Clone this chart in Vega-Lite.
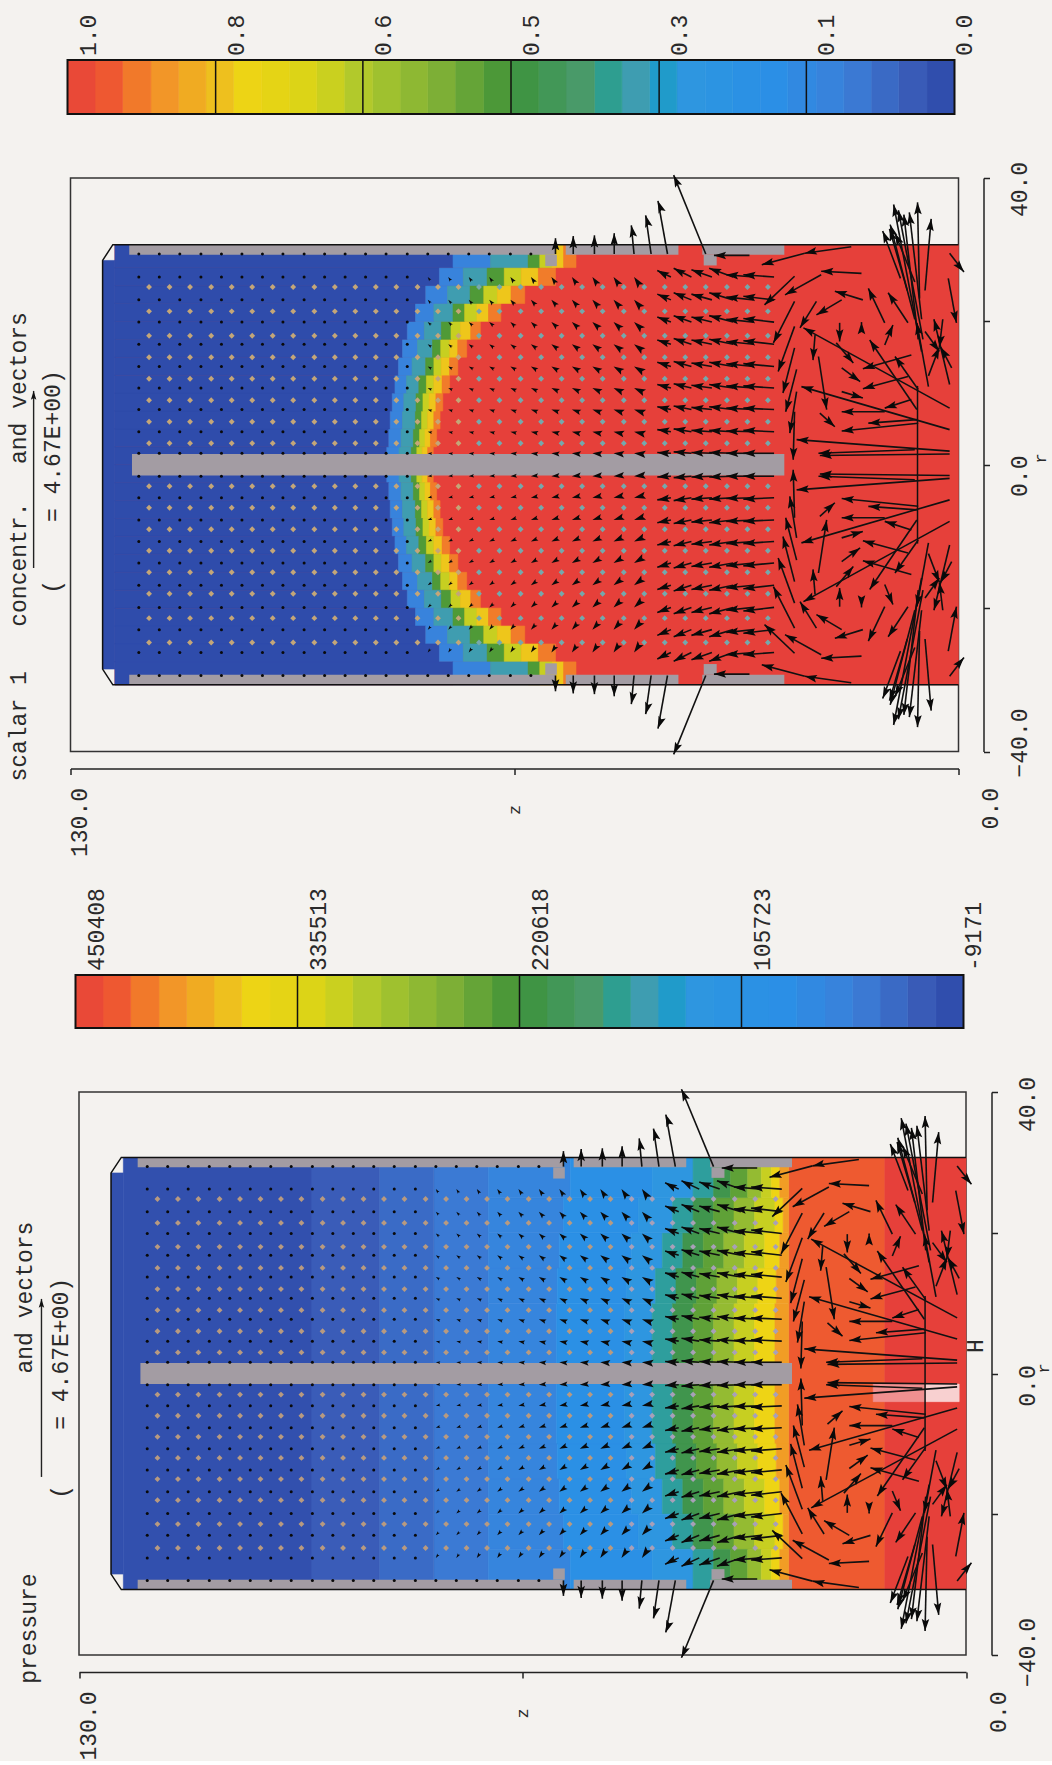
{"$schema":"https://vega.github.io/schema/vega-lite/v6.json","bounds":"flush","spacing":64,"padding":{"left":7.5,"top":14,"right":0,"bottom":0},"background":"#f4f2ef",
"config":{"view":{"stroke":null},"axis":{"grid":false,"labelFont":"Liberation Mono","labelFontSize":23,"labelColor":"#2a2a2a","titleFont":"Liberation Mono","titleFontSize":17,"titleFontWeight":"normal","titleColor":"#2a2a2a","domainColor":"#222","tickColor":"#222","domainWidth":1.5,"tickWidth":1.5,"labelFlush":false,"labelOverlap":false}},
"datasets":{
"frame":[{"z0":0,"z1":130,"r0":-40,"r1":40}],
"ramp":[{"a":0,"b":0.031,"t":0.016},{"a":0.031,"b":0.063,"t":0.047},{"a":0.063,"b":0.094,"t":0.078},{"a":0.094,"b":0.125,"t":0.109},{"a":0.125,"b":0.156,"t":0.141},{"a":0.156,"b":0.188,"t":0.172},{"a":0.188,"b":0.219,"t":0.203},{"a":0.219,"b":0.25,"t":0.234},{"a":0.25,"b":0.281,"t":0.266},{"a":0.281,"b":0.313,"t":0.297},{"a":0.313,"b":0.344,"t":0.328},{"a":0.344,"b":0.375,"t":0.359},{"a":0.375,"b":0.406,"t":0.391},{"a":0.406,"b":0.438,"t":0.422},{"a":0.438,"b":0.469,"t":0.453},{"a":0.469,"b":0.5,"t":0.484},{"a":0.5,"b":0.531,"t":0.516},{"a":0.531,"b":0.563,"t":0.547},{"a":0.563,"b":0.594,"t":0.578},{"a":0.594,"b":0.625,"t":0.609},{"a":0.625,"b":0.656,"t":0.641},{"a":0.656,"b":0.688,"t":0.672},{"a":0.688,"b":0.719,"t":0.703},{"a":0.719,"b":0.75,"t":0.734},{"a":0.75,"b":0.781,"t":0.766},{"a":0.781,"b":0.813,"t":0.797},{"a":0.813,"b":0.844,"t":0.828},{"a":0.844,"b":0.875,"t":0.859},{"a":0.875,"b":0.906,"t":0.891},{"a":0.906,"b":0.938,"t":0.922},{"a":0.938,"b":0.969,"t":0.953},{"a":0.969,"b":1,"t":0.984}],
"whole":[{"a":0,"b":1}],
"labels1":[{"v":1,"l":"1.0"},{"v":0.833,"l":"0.8"},{"v":0.667,"l":"0.6"},{"v":0.5,"l":"0.5"},{"v":0.333,"l":"0.3"},{"v":0.167,"l":"0.1"},{"v":0,"l":"0.0"}],
"labels2":[{"v":1,"l":"450408"},{"v":0.75,"l":"335513"},{"v":0.5,"l":"220618"},{"v":0.25,"l":"105723"},{"v":0,"l":"-9171"}],
"geom":[{"z0":121,"z1":25.5,"r0":-1.5,"r1":1.5},{"z0":121.4,"z1":59,"r0":29.3,"r1":30.7},{"z0":57.5,"z1":41,"r0":29.3,"r1":30.7},{"z0":37.5,"z1":25.5,"r0":29.3,"r1":30.7},{"z0":121.4,"z1":59,"r0":-30.7,"r1":-29.3},{"z0":57.5,"z1":41,"r0":-30.7,"r1":-29.3},{"z0":37.5,"z1":25.5,"r0":-30.7,"r1":-29.3},{"z0":60.5,"z1":58.8,"r0":27.7,"r1":29.3},{"z0":37.3,"z1":35.4,"r0":27.8,"r1":29.3},{"z0":60.5,"z1":58.8,"r0":-29.3,"r1":-27.7},{"z0":37.3,"z1":35.4,"r0":-29.3,"r1":-27.8}],
"lines":[{"g":1,"o":1,"z":0,"r":30.7},{"g":1,"o":2,"z":123.8,"r":30.7},{"g":1,"o":3,"z":125.3,"r":28.5},{"g":1,"o":4,"z":125.3,"r":-28.5},{"g":1,"o":5,"z":123.8,"r":-30.7},{"g":1,"o":6,"z":0,"r":-30.7},{"g":2,"o":1,"z":6,"r":11},{"g":2,"o":2,"z":6,"r":-11}],
"conc":[{"z0":0,"z1":123.5,"r0":-30.7,"r1":30.7,"t":1},{"z0":123.5,"z1":125.3,"r0":-28.5,"r1":28.5,"t":0.01},
{"z0":123.5,"z1":83.7,"r0":0,"r1":2.5,"t":0.01},{"z0":83.7,"z1":81.9,"r0":0,"r1":2.5,"t":0.14},{"z0":81.9,"z1":80.1,"r0":0,"r1":2.5,"t":0.36},{"z0":80.1,"z1":79.3,"r0":0,"r1":2.5,"t":0.52},{"z0":79.3,"z1":78.5,"r0":0,"r1":2.5,"t":0.7},{"z0":78.5,"z1":77.7,"r0":0,"r1":2.5,"t":0.82},{"z0":77.7,"z1":76.9,"r0":0,"r1":2.5,"t":0.92},
{"z0":123.5,"z1":83.4,"r0":2.5,"r1":5,"t":0.01},{"z0":83.4,"z1":81.6,"r0":2.5,"r1":5,"t":0.14},{"z0":81.6,"z1":79.8,"r0":2.5,"r1":5,"t":0.36},{"z0":79.8,"z1":78.9,"r0":2.5,"r1":5,"t":0.52},{"z0":78.9,"z1":78.1,"r0":2.5,"r1":5,"t":0.7},{"z0":78.1,"z1":77.3,"r0":2.5,"r1":5,"t":0.82},{"z0":77.3,"z1":76.4,"r0":2.5,"r1":5,"t":0.92},
{"z0":123.5,"z1":83.2,"r0":5,"r1":7.5,"t":0.01},{"z0":83.2,"z1":81.4,"r0":5,"r1":7.5,"t":0.14},{"z0":81.4,"z1":79.5,"r0":5,"r1":7.5,"t":0.36},{"z0":79.5,"z1":78.6,"r0":5,"r1":7.5,"t":0.52},{"z0":78.6,"z1":77.7,"r0":5,"r1":7.5,"t":0.7},{"z0":77.7,"z1":76.8,"r0":5,"r1":7.5,"t":0.82},{"z0":76.8,"z1":75.9,"r0":5,"r1":7.5,"t":0.92},
{"z0":123.5,"z1":82.9,"r0":7.5,"r1":10,"t":0.01},{"z0":82.9,"z1":81.2,"r0":7.5,"r1":10,"t":0.14},{"z0":81.2,"z1":79.4,"r0":7.5,"r1":10,"t":0.36},{"z0":79.4,"z1":78.4,"r0":7.5,"r1":10,"t":0.52},{"z0":78.4,"z1":77.5,"r0":7.5,"r1":10,"t":0.7},{"z0":77.5,"z1":76.5,"r0":7.5,"r1":10,"t":0.82},{"z0":76.5,"z1":75.5,"r0":7.5,"r1":10,"t":0.92},
{"z0":123.5,"z1":82.5,"r0":10,"r1":12.5,"t":0.01},{"z0":82.5,"z1":80.8,"r0":10,"r1":12.5,"t":0.14},{"z0":80.8,"z1":79,"r0":10,"r1":12.5,"t":0.36},{"z0":79,"z1":77.9,"r0":10,"r1":12.5,"t":0.52},{"z0":77.9,"z1":76.8,"r0":10,"r1":12.5,"t":0.7},{"z0":76.8,"z1":75.6,"r0":10,"r1":12.5,"t":0.82},{"z0":75.6,"z1":74.5,"r0":10,"r1":12.5,"t":0.92},
{"z0":123.5,"z1":82,"r0":12.5,"r1":15,"t":0.01},{"z0":82,"z1":80,"r0":12.5,"r1":15,"t":0.14},{"z0":80,"z1":78,"r0":12.5,"r1":15,"t":0.36},{"z0":78,"z1":76.8,"r0":12.5,"r1":15,"t":0.52},{"z0":76.8,"z1":75.7,"r0":12.5,"r1":15,"t":0.7},{"z0":75.7,"z1":74.5,"r0":12.5,"r1":15,"t":0.82},{"z0":74.5,"z1":73.3,"r0":12.5,"r1":15,"t":0.92},
{"z0":123.5,"z1":81.4,"r0":15,"r1":17.5,"t":0.01},{"z0":81.4,"z1":79.2,"r0":15,"r1":17.5,"t":0.14},{"z0":79.2,"z1":77,"r0":15,"r1":17.5,"t":0.36},{"z0":77,"z1":75.8,"r0":15,"r1":17.5,"t":0.52},{"z0":75.8,"z1":74.5,"r0":15,"r1":17.5,"t":0.7},{"z0":74.5,"z1":73.3,"r0":15,"r1":17.5,"t":0.82},{"z0":73.3,"z1":72,"r0":15,"r1":17.5,"t":0.92},
{"z0":123.5,"z1":80.7,"r0":17.5,"r1":20,"t":0.01},{"z0":80.7,"z1":78.2,"r0":17.5,"r1":20,"t":0.14},{"z0":78.2,"z1":75.7,"r0":17.5,"r1":20,"t":0.36},{"z0":75.7,"z1":74.3,"r0":17.5,"r1":20,"t":0.52},{"z0":74.3,"z1":72.9,"r0":17.5,"r1":20,"t":0.7},{"z0":72.9,"z1":71.4,"r0":17.5,"r1":20,"t":0.82},{"z0":71.4,"z1":70,"r0":17.5,"r1":20,"t":0.92},
{"z0":123.5,"z1":79.5,"r0":20,"r1":22.5,"t":0.01},{"z0":79.5,"z1":76.8,"r0":20,"r1":22.5,"t":0.14},{"z0":76.8,"z1":74,"r0":20,"r1":22.5,"t":0.36},{"z0":74,"z1":72.3,"r0":20,"r1":22.5,"t":0.52},{"z0":72.3,"z1":70.5,"r0":20,"r1":22.5,"t":0.7},{"z0":70.5,"z1":68.8,"r0":20,"r1":22.5,"t":0.82},{"z0":68.8,"z1":67,"r0":20,"r1":22.5,"t":0.92},
{"z0":123.5,"z1":78,"r0":22.5,"r1":25,"t":0.01},{"z0":78,"z1":74.8,"r0":22.5,"r1":25,"t":0.14},{"z0":74.8,"z1":71.5,"r0":22.5,"r1":25,"t":0.36},{"z0":71.5,"z1":69.5,"r0":22.5,"r1":25,"t":0.52},{"z0":69.5,"z1":67.5,"r0":22.5,"r1":25,"t":0.7},{"z0":67.5,"z1":65.5,"r0":22.5,"r1":25,"t":0.82},{"z0":65.5,"z1":63.5,"r0":22.5,"r1":25,"t":0.92},
{"z0":123.5,"z1":76,"r0":25,"r1":27.5,"t":0.01},{"z0":76,"z1":72.5,"r0":25,"r1":27.5,"t":0.14},{"z0":72.5,"z1":69,"r0":25,"r1":27.5,"t":0.36},{"z0":69,"z1":66.5,"r0":25,"r1":27.5,"t":0.52},{"z0":66.5,"z1":64,"r0":25,"r1":27.5,"t":0.7},{"z0":64,"z1":61.5,"r0":25,"r1":27.5,"t":0.82},{"z0":61.5,"z1":59,"r0":25,"r1":27.5,"t":0.92},
{"z0":123.5,"z1":74,"r0":27.5,"r1":30.7,"t":0.01},{"z0":74,"z1":68.5,"r0":27.5,"r1":30.7,"t":0.14},{"z0":68.5,"z1":63,"r0":27.5,"r1":30.7,"t":0.36},{"z0":63,"z1":61.3,"r0":27.5,"r1":30.7,"t":0.52},{"z0":61.3,"z1":59.5,"r0":27.5,"r1":30.7,"t":0.7},{"z0":59.5,"z1":57.8,"r0":27.5,"r1":30.7,"t":0.82},{"z0":57.8,"z1":56,"r0":27.5,"r1":30.7,"t":0.92},
{"z0":123.5,"z1":83.7,"r0":-2.5,"r1":0,"t":0.01},{"z0":83.7,"z1":81.9,"r0":-2.5,"r1":0,"t":0.14},{"z0":81.9,"z1":80.1,"r0":-2.5,"r1":0,"t":0.36},{"z0":80.1,"z1":79.3,"r0":-2.5,"r1":0,"t":0.52},{"z0":79.3,"z1":78.5,"r0":-2.5,"r1":0,"t":0.7},{"z0":78.5,"z1":77.7,"r0":-2.5,"r1":0,"t":0.82},{"z0":77.7,"z1":76.9,"r0":-2.5,"r1":0,"t":0.92},
{"z0":123.5,"z1":83.4,"r0":-5,"r1":-2.5,"t":0.01},{"z0":83.4,"z1":81.6,"r0":-5,"r1":-2.5,"t":0.14},{"z0":81.6,"z1":79.8,"r0":-5,"r1":-2.5,"t":0.36},{"z0":79.8,"z1":78.9,"r0":-5,"r1":-2.5,"t":0.52},{"z0":78.9,"z1":78.1,"r0":-5,"r1":-2.5,"t":0.7},{"z0":78.1,"z1":77.3,"r0":-5,"r1":-2.5,"t":0.82},{"z0":77.3,"z1":76.4,"r0":-5,"r1":-2.5,"t":0.92},
{"z0":123.5,"z1":83.2,"r0":-7.5,"r1":-5,"t":0.01},{"z0":83.2,"z1":81.4,"r0":-7.5,"r1":-5,"t":0.14},{"z0":81.4,"z1":79.5,"r0":-7.5,"r1":-5,"t":0.36},{"z0":79.5,"z1":78.6,"r0":-7.5,"r1":-5,"t":0.52},{"z0":78.6,"z1":77.7,"r0":-7.5,"r1":-5,"t":0.7},{"z0":77.7,"z1":76.8,"r0":-7.5,"r1":-5,"t":0.82},{"z0":76.8,"z1":75.9,"r0":-7.5,"r1":-5,"t":0.92},
{"z0":123.5,"z1":82.9,"r0":-10,"r1":-7.5,"t":0.01},{"z0":82.9,"z1":81.2,"r0":-10,"r1":-7.5,"t":0.14},{"z0":81.2,"z1":79.4,"r0":-10,"r1":-7.5,"t":0.36},{"z0":79.4,"z1":78.4,"r0":-10,"r1":-7.5,"t":0.52},{"z0":78.4,"z1":77.5,"r0":-10,"r1":-7.5,"t":0.7},{"z0":77.5,"z1":76.5,"r0":-10,"r1":-7.5,"t":0.82},{"z0":76.5,"z1":75.5,"r0":-10,"r1":-7.5,"t":0.92},
{"z0":123.5,"z1":82.5,"r0":-12.5,"r1":-10,"t":0.01},{"z0":82.5,"z1":80.8,"r0":-12.5,"r1":-10,"t":0.14},{"z0":80.8,"z1":79,"r0":-12.5,"r1":-10,"t":0.36},{"z0":79,"z1":77.9,"r0":-12.5,"r1":-10,"t":0.52},{"z0":77.9,"z1":76.8,"r0":-12.5,"r1":-10,"t":0.7},{"z0":76.8,"z1":75.6,"r0":-12.5,"r1":-10,"t":0.82},{"z0":75.6,"z1":74.5,"r0":-12.5,"r1":-10,"t":0.92},
{"z0":123.5,"z1":82,"r0":-15,"r1":-12.5,"t":0.01},{"z0":82,"z1":80,"r0":-15,"r1":-12.5,"t":0.14},{"z0":80,"z1":78,"r0":-15,"r1":-12.5,"t":0.36},{"z0":78,"z1":76.8,"r0":-15,"r1":-12.5,"t":0.52},{"z0":76.8,"z1":75.7,"r0":-15,"r1":-12.5,"t":0.7},{"z0":75.7,"z1":74.5,"r0":-15,"r1":-12.5,"t":0.82},{"z0":74.5,"z1":73.3,"r0":-15,"r1":-12.5,"t":0.92},
{"z0":123.5,"z1":81.4,"r0":-17.5,"r1":-15,"t":0.01},{"z0":81.4,"z1":79.2,"r0":-17.5,"r1":-15,"t":0.14},{"z0":79.2,"z1":77,"r0":-17.5,"r1":-15,"t":0.36},{"z0":77,"z1":75.8,"r0":-17.5,"r1":-15,"t":0.52},{"z0":75.8,"z1":74.5,"r0":-17.5,"r1":-15,"t":0.7},{"z0":74.5,"z1":73.3,"r0":-17.5,"r1":-15,"t":0.82},{"z0":73.3,"z1":72,"r0":-17.5,"r1":-15,"t":0.92},
{"z0":123.5,"z1":80.7,"r0":-20,"r1":-17.5,"t":0.01},{"z0":80.7,"z1":78.2,"r0":-20,"r1":-17.5,"t":0.14},{"z0":78.2,"z1":75.7,"r0":-20,"r1":-17.5,"t":0.36},{"z0":75.7,"z1":74.3,"r0":-20,"r1":-17.5,"t":0.52},{"z0":74.3,"z1":72.9,"r0":-20,"r1":-17.5,"t":0.7},{"z0":72.9,"z1":71.4,"r0":-20,"r1":-17.5,"t":0.82},{"z0":71.4,"z1":70,"r0":-20,"r1":-17.5,"t":0.92},
{"z0":123.5,"z1":79.5,"r0":-22.5,"r1":-20,"t":0.01},{"z0":79.5,"z1":76.8,"r0":-22.5,"r1":-20,"t":0.14},{"z0":76.8,"z1":74,"r0":-22.5,"r1":-20,"t":0.36},{"z0":74,"z1":72.3,"r0":-22.5,"r1":-20,"t":0.52},{"z0":72.3,"z1":70.5,"r0":-22.5,"r1":-20,"t":0.7},{"z0":70.5,"z1":68.8,"r0":-22.5,"r1":-20,"t":0.82},{"z0":68.8,"z1":67,"r0":-22.5,"r1":-20,"t":0.92},
{"z0":123.5,"z1":78,"r0":-25,"r1":-22.5,"t":0.01},{"z0":78,"z1":74.8,"r0":-25,"r1":-22.5,"t":0.14},{"z0":74.8,"z1":71.5,"r0":-25,"r1":-22.5,"t":0.36},{"z0":71.5,"z1":69.5,"r0":-25,"r1":-22.5,"t":0.52},{"z0":69.5,"z1":67.5,"r0":-25,"r1":-22.5,"t":0.7},{"z0":67.5,"z1":65.5,"r0":-25,"r1":-22.5,"t":0.82},{"z0":65.5,"z1":63.5,"r0":-25,"r1":-22.5,"t":0.92},
{"z0":123.5,"z1":76,"r0":-27.5,"r1":-25,"t":0.01},{"z0":76,"z1":72.5,"r0":-27.5,"r1":-25,"t":0.14},{"z0":72.5,"z1":69,"r0":-27.5,"r1":-25,"t":0.36},{"z0":69,"z1":66.5,"r0":-27.5,"r1":-25,"t":0.52},{"z0":66.5,"z1":64,"r0":-27.5,"r1":-25,"t":0.7},{"z0":64,"z1":61.5,"r0":-27.5,"r1":-25,"t":0.82},{"z0":61.5,"z1":59,"r0":-27.5,"r1":-25,"t":0.92},
{"z0":123.5,"z1":74,"r0":-30.7,"r1":-27.5,"t":0.01},{"z0":74,"z1":68.5,"r0":-30.7,"r1":-27.5,"t":0.14},{"z0":68.5,"z1":63,"r0":-30.7,"r1":-27.5,"t":0.36},{"z0":63,"z1":61.3,"r0":-30.7,"r1":-27.5,"t":0.52},{"z0":61.3,"z1":59.5,"r0":-30.7,"r1":-27.5,"t":0.7},{"z0":59.5,"z1":57.8,"r0":-30.7,"r1":-27.5,"t":0.82},{"z0":57.8,"z1":56,"r0":-30.7,"r1":-27.5,"t":0.92}],
"press":[{"z0":0,"z1":12,"r0":-30.7,"r1":30.7,"t":1},{"z0":12,"z1":26,"r0":-30.7,"r1":30.7,"t":0.95},{"z0":70,"z1":78,"r0":-30.7,"r1":30.7,"t":0.11},{"z0":78,"z1":86,"r0":-30.7,"r1":30.7,"t":0.08},{"z0":86,"z1":96,"r0":-30.7,"r1":30.7,"t":0.05},{"z0":96,"z1":123.5,"r0":-30.7,"r1":30.7,"t":0.02},{"z0":123.5,"z1":125.3,"r0":-28.5,"r1":28.5,"t":0.02},
{"z0":70,"z1":60,"r0":-10,"r1":10,"t":0.15},{"z0":60,"z1":50,"r0":-10,"r1":10,"t":0.22},{"z0":50,"z1":46,"r0":-10,"r1":10,"t":0.3},{"z0":46,"z1":43,"r0":-10,"r1":10,"t":0.38},{"z0":43,"z1":40,"r0":-10,"r1":10,"t":0.47},{"z0":40,"z1":37,"r0":-10,"r1":10,"t":0.54},{"z0":37,"z1":34,"r0":-10,"r1":10,"t":0.62},{"z0":34,"z1":31,"r0":-10,"r1":10,"t":0.7},{"z0":31,"z1":28,"r0":-10,"r1":10,"t":0.8},{"z0":28,"z1":26,"r0":-10,"r1":10,"t":0.88},
{"z0":70,"z1":59.9,"r0":10,"r1":15,"t":0.15},{"z0":59.9,"z1":49.7,"r0":10,"r1":15,"t":0.22},{"z0":49.7,"z1":45.5,"r0":10,"r1":15,"t":0.3},{"z0":45.5,"z1":42.5,"r0":10,"r1":15,"t":0.38},{"z0":42.5,"z1":39.5,"r0":10,"r1":15,"t":0.47},{"z0":39.5,"z1":36.5,"r0":10,"r1":15,"t":0.54},{"z0":36.5,"z1":33.5,"r0":10,"r1":15,"t":0.62},{"z0":33.5,"z1":30.5,"r0":10,"r1":15,"t":0.7},{"z0":30.5,"z1":27.8,"r0":10,"r1":15,"t":0.8},{"z0":27.8,"z1":26,"r0":10,"r1":15,"t":0.88},
{"z0":70,"z1":59.6,"r0":15,"r1":20,"t":0.15},{"z0":59.6,"z1":49,"r0":15,"r1":20,"t":0.22},{"z0":49,"z1":44.5,"r0":15,"r1":20,"t":0.3},{"z0":44.5,"z1":41.5,"r0":15,"r1":20,"t":0.38},{"z0":41.5,"z1":38.5,"r0":15,"r1":20,"t":0.47},{"z0":38.5,"z1":35.5,"r0":15,"r1":20,"t":0.54},{"z0":35.5,"z1":32.5,"r0":15,"r1":20,"t":0.62},{"z0":32.5,"z1":29.5,"r0":15,"r1":20,"t":0.7},{"z0":29.5,"z1":27.3,"r0":15,"r1":20,"t":0.8},{"z0":27.3,"z1":26,"r0":15,"r1":20,"t":0.88},
{"z0":70,"z1":59,"r0":20,"r1":25,"t":0.15},{"z0":59,"z1":48,"r0":20,"r1":25,"t":0.22},{"z0":48,"z1":43,"r0":20,"r1":25,"t":0.3},{"z0":43,"z1":40,"r0":20,"r1":25,"t":0.38},{"z0":40,"z1":37,"r0":20,"r1":25,"t":0.47},{"z0":37,"z1":34,"r0":20,"r1":25,"t":0.54},{"z0":34,"z1":31,"r0":20,"r1":25,"t":0.62},{"z0":31,"z1":28,"r0":20,"r1":25,"t":0.7},{"z0":28,"z1":26.8,"r0":20,"r1":25,"t":0.8},{"z0":26.8,"z1":26,"r0":20,"r1":25,"t":0.88},
{"z0":70,"z1":58,"r0":25,"r1":30.7,"t":0.15},{"z0":58,"z1":46,"r0":25,"r1":30.7,"t":0.22},{"z0":46,"z1":40,"r0":25,"r1":30.7,"t":0.3},{"z0":40,"z1":37,"r0":25,"r1":30.7,"t":0.38},{"z0":37,"z1":34.5,"r0":25,"r1":30.7,"t":0.47},{"z0":34.5,"z1":32,"r0":25,"r1":30.7,"t":0.54},{"z0":32,"z1":30,"r0":25,"r1":30.7,"t":0.62},{"z0":30,"z1":28.5,"r0":25,"r1":30.7,"t":0.7},{"z0":28.5,"z1":27.3,"r0":25,"r1":30.7,"t":0.8},{"z0":27.3,"z1":26,"r0":25,"r1":30.7,"t":0.88},
{"z0":70,"z1":59.9,"r0":-15,"r1":-10,"t":0.15},{"z0":59.9,"z1":49.7,"r0":-15,"r1":-10,"t":0.22},{"z0":49.7,"z1":45.5,"r0":-15,"r1":-10,"t":0.3},{"z0":45.5,"z1":42.5,"r0":-15,"r1":-10,"t":0.38},{"z0":42.5,"z1":39.5,"r0":-15,"r1":-10,"t":0.47},{"z0":39.5,"z1":36.5,"r0":-15,"r1":-10,"t":0.54},{"z0":36.5,"z1":33.5,"r0":-15,"r1":-10,"t":0.62},{"z0":33.5,"z1":30.5,"r0":-15,"r1":-10,"t":0.7},{"z0":30.5,"z1":27.8,"r0":-15,"r1":-10,"t":0.8},{"z0":27.8,"z1":26,"r0":-15,"r1":-10,"t":0.88},
{"z0":70,"z1":59.6,"r0":-20,"r1":-15,"t":0.15},{"z0":59.6,"z1":49,"r0":-20,"r1":-15,"t":0.22},{"z0":49,"z1":44.5,"r0":-20,"r1":-15,"t":0.3},{"z0":44.5,"z1":41.5,"r0":-20,"r1":-15,"t":0.38},{"z0":41.5,"z1":38.5,"r0":-20,"r1":-15,"t":0.47},{"z0":38.5,"z1":35.5,"r0":-20,"r1":-15,"t":0.54},{"z0":35.5,"z1":32.5,"r0":-20,"r1":-15,"t":0.62},{"z0":32.5,"z1":29.5,"r0":-20,"r1":-15,"t":0.7},{"z0":29.5,"z1":27.3,"r0":-20,"r1":-15,"t":0.8},{"z0":27.3,"z1":26,"r0":-20,"r1":-15,"t":0.88},
{"z0":70,"z1":59,"r0":-25,"r1":-20,"t":0.15},{"z0":59,"z1":48,"r0":-25,"r1":-20,"t":0.22},{"z0":48,"z1":43,"r0":-25,"r1":-20,"t":0.3},{"z0":43,"z1":40,"r0":-25,"r1":-20,"t":0.38},{"z0":40,"z1":37,"r0":-25,"r1":-20,"t":0.47},{"z0":37,"z1":34,"r0":-25,"r1":-20,"t":0.54},{"z0":34,"z1":31,"r0":-25,"r1":-20,"t":0.62},{"z0":31,"z1":28,"r0":-25,"r1":-20,"t":0.7},{"z0":28,"z1":26.8,"r0":-25,"r1":-20,"t":0.8},{"z0":26.8,"z1":26,"r0":-25,"r1":-20,"t":0.88},
{"z0":70,"z1":58,"r0":-30.7,"r1":-25,"t":0.15},{"z0":58,"z1":46,"r0":-30.7,"r1":-25,"t":0.22},{"z0":46,"z1":40,"r0":-30.7,"r1":-25,"t":0.3},{"z0":40,"z1":37,"r0":-30.7,"r1":-25,"t":0.38},{"z0":37,"z1":34.5,"r0":-30.7,"r1":-25,"t":0.47},{"z0":34.5,"z1":32,"r0":-30.7,"r1":-25,"t":0.54},{"z0":32,"z1":30,"r0":-30.7,"r1":-25,"t":0.62},{"z0":30,"z1":28.5,"r0":-30.7,"r1":-25,"t":0.7},{"z0":28.5,"z1":27.3,"r0":-30.7,"r1":-25,"t":0.8},{"z0":27.3,"z1":26,"r0":-30.7,"r1":-25,"t":0.88},
{"z0":13.6,"z1":6,"r0":-4,"r1":-1.5,"t":1.04},{"z0":6,"z1":1,"r0":-4,"r1":-1.5,"t":1.08}],
"tan":[{"z":118.5,"r":3},{"z":115.5,"r":3},{"z":112.5,"r":3},{"z":109.4,"r":3},{"z":106.4,"r":3},{"z":103.4,"r":3},{"z":100.4,"r":3},{"z":97.4,"r":3},{"z":94.3,"r":3},{"z":91.3,"r":3},{"z":88.3,"r":3},{"z":85.3,"r":3},{"z":82.3,"r":3},{"z":79.2,"r":3},{"z":76.2,"r":3},{"z":73.2,"r":3},{"z":70.2,"r":3},{"z":67.2,"r":3},{"z":64.1,"r":3},{"z":61.1,"r":3},{"z":58.1,"r":3},{"z":55.1,"r":3},{"z":52.1,"r":3},{"z":49,"r":3},{"z":46,"r":3},{"z":43,"r":3},{"z":40,"r":3},{"z":37,"r":3},{"z":33.9,"r":3},{"z":30.9,"r":3},{"z":27.9,"r":3},
{"z":118.5,"r":6},{"z":115.5,"r":6},{"z":112.5,"r":6},{"z":109.4,"r":6},{"z":106.4,"r":6},{"z":103.4,"r":6},{"z":100.4,"r":6},{"z":97.4,"r":6},{"z":94.3,"r":6},{"z":91.3,"r":6},{"z":88.3,"r":6},{"z":85.3,"r":6},{"z":82.3,"r":6},{"z":79.2,"r":6},{"z":76.2,"r":6},{"z":73.2,"r":6},{"z":70.2,"r":6},{"z":67.2,"r":6},{"z":64.1,"r":6},{"z":61.1,"r":6},{"z":58.1,"r":6},{"z":55.1,"r":6},{"z":52.1,"r":6},{"z":49,"r":6},{"z":46,"r":6},{"z":43,"r":6},{"z":40,"r":6},{"z":37,"r":6},{"z":33.9,"r":6},{"z":30.9,"r":6},{"z":27.9,"r":6},
{"z":118.5,"r":9},{"z":115.5,"r":9},{"z":112.5,"r":9},{"z":109.4,"r":9},{"z":106.4,"r":9},{"z":103.4,"r":9},{"z":100.4,"r":9},{"z":97.4,"r":9},{"z":94.3,"r":9},{"z":91.3,"r":9},{"z":88.3,"r":9},{"z":85.3,"r":9},{"z":82.3,"r":9},{"z":79.2,"r":9},{"z":76.2,"r":9},{"z":73.2,"r":9},{"z":70.2,"r":9},{"z":67.2,"r":9},{"z":64.1,"r":9},{"z":61.1,"r":9},{"z":58.1,"r":9},{"z":55.1,"r":9},{"z":52.1,"r":9},{"z":49,"r":9},{"z":46,"r":9},{"z":43,"r":9},{"z":40,"r":9},{"z":37,"r":9},{"z":33.9,"r":9},{"z":30.9,"r":9},{"z":27.9,"r":9},
{"z":118.5,"r":12},{"z":115.5,"r":12},{"z":112.5,"r":12},{"z":109.4,"r":12},{"z":106.4,"r":12},{"z":103.4,"r":12},{"z":100.4,"r":12},{"z":97.4,"r":12},{"z":94.3,"r":12},{"z":91.3,"r":12},{"z":88.3,"r":12},{"z":85.3,"r":12},{"z":82.3,"r":12},{"z":79.2,"r":12},{"z":76.2,"r":12},{"z":73.2,"r":12},{"z":70.2,"r":12},{"z":67.2,"r":12},{"z":64.1,"r":12},{"z":61.1,"r":12},{"z":58.1,"r":12},{"z":55.1,"r":12},{"z":52.1,"r":12},{"z":49,"r":12},{"z":46,"r":12},{"z":43,"r":12},{"z":40,"r":12},{"z":37,"r":12},{"z":33.9,"r":12},{"z":30.9,"r":12},{"z":27.9,"r":12},
{"z":118.5,"r":15},{"z":115.5,"r":15},{"z":112.5,"r":15},{"z":109.4,"r":15},{"z":106.4,"r":15},{"z":103.4,"r":15},{"z":100.4,"r":15},{"z":97.4,"r":15},{"z":94.3,"r":15},{"z":91.3,"r":15},{"z":88.3,"r":15},{"z":85.3,"r":15},{"z":82.3,"r":15},{"z":79.2,"r":15},{"z":76.2,"r":15},{"z":73.2,"r":15},{"z":70.2,"r":15},{"z":67.2,"r":15},{"z":64.1,"r":15},{"z":61.1,"r":15},{"z":58.1,"r":15},{"z":55.1,"r":15},{"z":52.1,"r":15},{"z":49,"r":15},{"z":46,"r":15},{"z":43,"r":15},{"z":40,"r":15},{"z":37,"r":15},{"z":33.9,"r":15},{"z":30.9,"r":15},{"z":27.9,"r":15},
{"z":118.5,"r":18},{"z":115.5,"r":18},{"z":112.5,"r":18},{"z":109.4,"r":18},{"z":106.4,"r":18},{"z":103.4,"r":18},{"z":100.4,"r":18},{"z":97.4,"r":18},{"z":94.3,"r":18},{"z":91.3,"r":18},{"z":88.3,"r":18},{"z":85.3,"r":18},{"z":82.3,"r":18},{"z":79.2,"r":18},{"z":76.2,"r":18},{"z":73.2,"r":18},{"z":70.2,"r":18},{"z":67.2,"r":18},{"z":64.1,"r":18},{"z":61.1,"r":18},{"z":58.1,"r":18},{"z":55.1,"r":18},{"z":52.1,"r":18},{"z":49,"r":18},{"z":46,"r":18},{"z":43,"r":18},{"z":40,"r":18},{"z":37,"r":18},{"z":33.9,"r":18},{"z":30.9,"r":18},{"z":27.9,"r":18},
{"z":118.5,"r":21.4},{"z":115.5,"r":21.4},{"z":112.5,"r":21.4},{"z":109.4,"r":21.4},{"z":106.4,"r":21.4},{"z":103.4,"r":21.4},{"z":100.4,"r":21.4},{"z":97.4,"r":21.4},{"z":94.3,"r":21.4},{"z":91.3,"r":21.4},{"z":88.3,"r":21.4},{"z":85.3,"r":21.4},{"z":82.3,"r":21.4},{"z":79.2,"r":21.4},{"z":76.2,"r":21.4},{"z":73.2,"r":21.4},{"z":70.2,"r":21.4},{"z":67.2,"r":21.4},{"z":64.1,"r":21.4},{"z":61.1,"r":21.4},{"z":58.1,"r":21.4},{"z":55.1,"r":21.4},{"z":52.1,"r":21.4},{"z":49,"r":21.4},{"z":46,"r":21.4},{"z":43,"r":21.4},{"z":40,"r":21.4},{"z":37,"r":21.4},{"z":33.9,"r":21.4},{"z":30.9,"r":21.4},{"z":27.9,"r":21.4},
{"z":118.5,"r":24.8},{"z":115.5,"r":24.8},{"z":112.5,"r":24.8},{"z":109.4,"r":24.8},{"z":106.4,"r":24.8},{"z":103.4,"r":24.8},{"z":100.4,"r":24.8},{"z":97.4,"r":24.8},{"z":94.3,"r":24.8},{"z":91.3,"r":24.8},{"z":88.3,"r":24.8},{"z":85.3,"r":24.8},{"z":82.3,"r":24.8},{"z":79.2,"r":24.8},{"z":76.2,"r":24.8},{"z":73.2,"r":24.8},{"z":70.2,"r":24.8},{"z":67.2,"r":24.8},{"z":64.1,"r":24.8},{"z":61.1,"r":24.8},{"z":58.1,"r":24.8},{"z":55.1,"r":24.8},{"z":52.1,"r":24.8},{"z":49,"r":24.8},{"z":46,"r":24.8},{"z":43,"r":24.8},{"z":40,"r":24.8},{"z":37,"r":24.8},{"z":33.9,"r":24.8},{"z":30.9,"r":24.8},{"z":27.9,"r":24.8},
{"z":118.5,"r":-3},{"z":115.5,"r":-3},{"z":112.5,"r":-3},{"z":109.4,"r":-3},{"z":106.4,"r":-3},{"z":103.4,"r":-3},{"z":100.4,"r":-3},{"z":97.4,"r":-3},{"z":94.3,"r":-3},{"z":91.3,"r":-3},{"z":88.3,"r":-3},{"z":85.3,"r":-3},{"z":82.3,"r":-3},{"z":79.2,"r":-3},{"z":76.2,"r":-3},{"z":73.2,"r":-3},{"z":70.2,"r":-3},{"z":67.2,"r":-3},{"z":64.1,"r":-3},{"z":61.1,"r":-3},{"z":58.1,"r":-3},{"z":55.1,"r":-3},{"z":52.1,"r":-3},{"z":49,"r":-3},{"z":46,"r":-3},{"z":43,"r":-3},{"z":40,"r":-3},{"z":37,"r":-3},{"z":33.9,"r":-3},{"z":30.9,"r":-3},{"z":27.9,"r":-3},
{"z":118.5,"r":-6},{"z":115.5,"r":-6},{"z":112.5,"r":-6},{"z":109.4,"r":-6},{"z":106.4,"r":-6},{"z":103.4,"r":-6},{"z":100.4,"r":-6},{"z":97.4,"r":-6},{"z":94.3,"r":-6},{"z":91.3,"r":-6},{"z":88.3,"r":-6},{"z":85.3,"r":-6},{"z":82.3,"r":-6},{"z":79.2,"r":-6},{"z":76.2,"r":-6},{"z":73.2,"r":-6},{"z":70.2,"r":-6},{"z":67.2,"r":-6},{"z":64.1,"r":-6},{"z":61.1,"r":-6},{"z":58.1,"r":-6},{"z":55.1,"r":-6},{"z":52.1,"r":-6},{"z":49,"r":-6},{"z":46,"r":-6},{"z":43,"r":-6},{"z":40,"r":-6},{"z":37,"r":-6},{"z":33.9,"r":-6},{"z":30.9,"r":-6},{"z":27.9,"r":-6},
{"z":118.5,"r":-9},{"z":115.5,"r":-9},{"z":112.5,"r":-9},{"z":109.4,"r":-9},{"z":106.4,"r":-9},{"z":103.4,"r":-9},{"z":100.4,"r":-9},{"z":97.4,"r":-9},{"z":94.3,"r":-9},{"z":91.3,"r":-9},{"z":88.3,"r":-9},{"z":85.3,"r":-9},{"z":82.3,"r":-9},{"z":79.2,"r":-9},{"z":76.2,"r":-9},{"z":73.2,"r":-9},{"z":70.2,"r":-9},{"z":67.2,"r":-9},{"z":64.1,"r":-9},{"z":61.1,"r":-9},{"z":58.1,"r":-9},{"z":55.1,"r":-9},{"z":52.1,"r":-9},{"z":49,"r":-9},{"z":46,"r":-9},{"z":43,"r":-9},{"z":40,"r":-9},{"z":37,"r":-9},{"z":33.9,"r":-9},{"z":30.9,"r":-9},{"z":27.9,"r":-9},
{"z":118.5,"r":-12},{"z":115.5,"r":-12},{"z":112.5,"r":-12},{"z":109.4,"r":-12},{"z":106.4,"r":-12},{"z":103.4,"r":-12},{"z":100.4,"r":-12},{"z":97.4,"r":-12},{"z":94.3,"r":-12},{"z":91.3,"r":-12},{"z":88.3,"r":-12},{"z":85.3,"r":-12},{"z":82.3,"r":-12},{"z":79.2,"r":-12},{"z":76.2,"r":-12},{"z":73.2,"r":-12},{"z":70.2,"r":-12},{"z":67.2,"r":-12},{"z":64.1,"r":-12},{"z":61.1,"r":-12},{"z":58.1,"r":-12},{"z":55.1,"r":-12},{"z":52.1,"r":-12},{"z":49,"r":-12},{"z":46,"r":-12},{"z":43,"r":-12},{"z":40,"r":-12},{"z":37,"r":-12},{"z":33.9,"r":-12},{"z":30.9,"r":-12},{"z":27.9,"r":-12},
{"z":118.5,"r":-15},{"z":115.5,"r":-15},{"z":112.5,"r":-15},{"z":109.4,"r":-15},{"z":106.4,"r":-15},{"z":103.4,"r":-15},{"z":100.4,"r":-15},{"z":97.4,"r":-15},{"z":94.3,"r":-15},{"z":91.3,"r":-15},{"z":88.3,"r":-15},{"z":85.3,"r":-15},{"z":82.3,"r":-15},{"z":79.2,"r":-15},{"z":76.2,"r":-15},{"z":73.2,"r":-15},{"z":70.2,"r":-15},{"z":67.2,"r":-15},{"z":64.1,"r":-15},{"z":61.1,"r":-15},{"z":58.1,"r":-15},{"z":55.1,"r":-15},{"z":52.1,"r":-15},{"z":49,"r":-15},{"z":46,"r":-15},{"z":43,"r":-15},{"z":40,"r":-15},{"z":37,"r":-15},{"z":33.9,"r":-15},{"z":30.9,"r":-15},{"z":27.9,"r":-15},
{"z":118.5,"r":-18},{"z":115.5,"r":-18},{"z":112.5,"r":-18},{"z":109.4,"r":-18},{"z":106.4,"r":-18},{"z":103.4,"r":-18},{"z":100.4,"r":-18},{"z":97.4,"r":-18},{"z":94.3,"r":-18},{"z":91.3,"r":-18},{"z":88.3,"r":-18},{"z":85.3,"r":-18},{"z":82.3,"r":-18},{"z":79.2,"r":-18},{"z":76.2,"r":-18},{"z":73.2,"r":-18},{"z":70.2,"r":-18},{"z":67.2,"r":-18},{"z":64.1,"r":-18},{"z":61.1,"r":-18},{"z":58.1,"r":-18},{"z":55.1,"r":-18},{"z":52.1,"r":-18},{"z":49,"r":-18},{"z":46,"r":-18},{"z":43,"r":-18},{"z":40,"r":-18},{"z":37,"r":-18},{"z":33.9,"r":-18},{"z":30.9,"r":-18},{"z":27.9,"r":-18},
{"z":118.5,"r":-21.4},{"z":115.5,"r":-21.4},{"z":112.5,"r":-21.4},{"z":109.4,"r":-21.4},{"z":106.4,"r":-21.4},{"z":103.4,"r":-21.4},{"z":100.4,"r":-21.4},{"z":97.4,"r":-21.4},{"z":94.3,"r":-21.4},{"z":91.3,"r":-21.4},{"z":88.3,"r":-21.4},{"z":85.3,"r":-21.4},{"z":82.3,"r":-21.4},{"z":79.2,"r":-21.4},{"z":76.2,"r":-21.4},{"z":73.2,"r":-21.4},{"z":70.2,"r":-21.4},{"z":67.2,"r":-21.4},{"z":64.1,"r":-21.4},{"z":61.1,"r":-21.4},{"z":58.1,"r":-21.4},{"z":55.1,"r":-21.4},{"z":52.1,"r":-21.4},{"z":49,"r":-21.4},{"z":46,"r":-21.4},{"z":43,"r":-21.4},{"z":40,"r":-21.4},{"z":37,"r":-21.4},{"z":33.9,"r":-21.4},{"z":30.9,"r":-21.4},{"z":27.9,"r":-21.4},
{"z":118.5,"r":-24.8},{"z":115.5,"r":-24.8},{"z":112.5,"r":-24.8},{"z":109.4,"r":-24.8},{"z":106.4,"r":-24.8},{"z":103.4,"r":-24.8},{"z":100.4,"r":-24.8},{"z":97.4,"r":-24.8},{"z":94.3,"r":-24.8},{"z":91.3,"r":-24.8},{"z":88.3,"r":-24.8},{"z":85.3,"r":-24.8},{"z":82.3,"r":-24.8},{"z":79.2,"r":-24.8},{"z":76.2,"r":-24.8},{"z":73.2,"r":-24.8},{"z":70.2,"r":-24.8},{"z":67.2,"r":-24.8},{"z":64.1,"r":-24.8},{"z":61.1,"r":-24.8},{"z":58.1,"r":-24.8},{"z":55.1,"r":-24.8},{"z":52.1,"r":-24.8},{"z":49,"r":-24.8},{"z":46,"r":-24.8},{"z":43,"r":-24.8},{"z":40,"r":-24.8},{"z":37,"r":-24.8},{"z":33.9,"r":-24.8},{"z":30.9,"r":-24.8},{"z":27.9,"r":-24.8}],
"black":[{"z":120,"r":1.6},{"z":117,"r":1.6},{"z":114,"r":1.6},{"z":110.9,"r":1.6},{"z":107.9,"r":1.6},{"z":104.9,"r":1.6},{"z":101.9,"r":1.6},{"z":98.9,"r":1.6},{"z":95.8,"r":1.6},{"z":92.8,"r":1.6},{"z":89.8,"r":1.6},{"z":86.8,"r":1.6},{"z":83.8,"r":1.6},{"z":80.7,"r":1.6},
{"z":120,"r":4.6},{"z":117,"r":4.6},{"z":114,"r":4.6},{"z":110.9,"r":4.6},{"z":107.9,"r":4.6},{"z":104.9,"r":4.6},{"z":101.9,"r":4.6},{"z":98.9,"r":4.6},{"z":95.8,"r":4.6},{"z":92.8,"r":4.6},{"z":89.8,"r":4.6},{"z":86.8,"r":4.6},{"z":83.8,"r":4.6},{"z":80.7,"r":4.6},
{"z":120,"r":7.7},{"z":117,"r":7.7},{"z":114,"r":7.7},{"z":110.9,"r":7.7},{"z":107.9,"r":7.7},{"z":104.9,"r":7.7},{"z":101.9,"r":7.7},{"z":98.9,"r":7.7},{"z":95.8,"r":7.7},{"z":92.8,"r":7.7},{"z":89.8,"r":7.7},{"z":86.8,"r":7.7},{"z":83.8,"r":7.7},{"z":80.7,"r":7.7},
{"z":120,"r":10.7},{"z":117,"r":10.7},{"z":114,"r":10.7},{"z":110.9,"r":10.7},{"z":107.9,"r":10.7},{"z":104.9,"r":10.7},{"z":101.9,"r":10.7},{"z":98.9,"r":10.7},{"z":95.8,"r":10.7},{"z":92.8,"r":10.7},{"z":89.8,"r":10.7},{"z":86.8,"r":10.7},{"z":83.8,"r":10.7},{"z":80.7,"r":10.7},
{"z":120,"r":13.7},{"z":117,"r":13.7},{"z":114,"r":13.7},{"z":110.9,"r":13.7},{"z":107.9,"r":13.7},{"z":104.9,"r":13.7},{"z":101.9,"r":13.7},{"z":98.9,"r":13.7},{"z":95.8,"r":13.7},{"z":92.8,"r":13.7},{"z":89.8,"r":13.7},{"z":86.8,"r":13.7},{"z":83.8,"r":13.7},{"z":80.7,"r":13.7},
{"z":120,"r":16.8},{"z":117,"r":16.8},{"z":114,"r":16.8},{"z":110.9,"r":16.8},{"z":107.9,"r":16.8},{"z":104.9,"r":16.8},{"z":101.9,"r":16.8},{"z":98.9,"r":16.8},{"z":95.8,"r":16.8},{"z":92.8,"r":16.8},{"z":89.8,"r":16.8},{"z":86.8,"r":16.8},{"z":83.8,"r":16.8},{"z":80.7,"r":16.8},
{"z":120,"r":19.9},{"z":117,"r":19.9},{"z":114,"r":19.9},{"z":110.9,"r":19.9},{"z":107.9,"r":19.9},{"z":104.9,"r":19.9},{"z":101.9,"r":19.9},{"z":98.9,"r":19.9},{"z":95.8,"r":19.9},{"z":92.8,"r":19.9},{"z":89.8,"r":19.9},{"z":86.8,"r":19.9},{"z":83.8,"r":19.9},{"z":80.7,"r":19.9},
{"z":120,"r":23},{"z":117,"r":23},{"z":114,"r":23},{"z":110.9,"r":23},{"z":107.9,"r":23},{"z":104.9,"r":23},{"z":101.9,"r":23},{"z":98.9,"r":23},{"z":95.8,"r":23},{"z":92.8,"r":23},{"z":89.8,"r":23},{"z":86.8,"r":23},{"z":83.8,"r":23},{"z":80.7,"r":23},
{"z":120,"r":26.2},{"z":117,"r":26.2},{"z":114,"r":26.2},{"z":110.9,"r":26.2},{"z":107.9,"r":26.2},{"z":104.9,"r":26.2},{"z":101.9,"r":26.2},{"z":98.9,"r":26.2},{"z":95.8,"r":26.2},{"z":92.8,"r":26.2},{"z":89.8,"r":26.2},{"z":86.8,"r":26.2},{"z":83.8,"r":26.2},{"z":80.7,"r":26.2},
{"z":120,"r":29.4},{"z":117,"r":29.4},{"z":114,"r":29.4},{"z":110.9,"r":29.4},{"z":107.9,"r":29.4},{"z":104.9,"r":29.4},{"z":101.9,"r":29.4},{"z":98.9,"r":29.4},{"z":95.8,"r":29.4},{"z":92.8,"r":29.4},{"z":89.8,"r":29.4},{"z":86.8,"r":29.4},{"z":83.8,"r":29.4},{"z":80.7,"r":29.4},{"z":77.7,"r":29.4},{"z":74.7,"r":29.4},{"z":71.7,"r":29.4},{"z":68.7,"r":29.4},{"z":65.6,"r":29.4},{"z":62.6,"r":29.4},
{"z":120,"r":-1.6},{"z":117,"r":-1.6},{"z":114,"r":-1.6},{"z":110.9,"r":-1.6},{"z":107.9,"r":-1.6},{"z":104.9,"r":-1.6},{"z":101.9,"r":-1.6},{"z":98.9,"r":-1.6},{"z":95.8,"r":-1.6},{"z":92.8,"r":-1.6},{"z":89.8,"r":-1.6},{"z":86.8,"r":-1.6},{"z":83.8,"r":-1.6},{"z":80.7,"r":-1.6},
{"z":120,"r":-4.6},{"z":117,"r":-4.6},{"z":114,"r":-4.6},{"z":110.9,"r":-4.6},{"z":107.9,"r":-4.6},{"z":104.9,"r":-4.6},{"z":101.9,"r":-4.6},{"z":98.9,"r":-4.6},{"z":95.8,"r":-4.6},{"z":92.8,"r":-4.6},{"z":89.8,"r":-4.6},{"z":86.8,"r":-4.6},{"z":83.8,"r":-4.6},{"z":80.7,"r":-4.6},
{"z":120,"r":-7.7},{"z":117,"r":-7.7},{"z":114,"r":-7.7},{"z":110.9,"r":-7.7},{"z":107.9,"r":-7.7},{"z":104.9,"r":-7.7},{"z":101.9,"r":-7.7},{"z":98.9,"r":-7.7},{"z":95.8,"r":-7.7},{"z":92.8,"r":-7.7},{"z":89.8,"r":-7.7},{"z":86.8,"r":-7.7},{"z":83.8,"r":-7.7},{"z":80.7,"r":-7.7},
{"z":120,"r":-10.7},{"z":117,"r":-10.7},{"z":114,"r":-10.7},{"z":110.9,"r":-10.7},{"z":107.9,"r":-10.7},{"z":104.9,"r":-10.7},{"z":101.9,"r":-10.7},{"z":98.9,"r":-10.7},{"z":95.8,"r":-10.7},{"z":92.8,"r":-10.7},{"z":89.8,"r":-10.7},{"z":86.8,"r":-10.7},{"z":83.8,"r":-10.7},{"z":80.7,"r":-10.7},
{"z":120,"r":-13.7},{"z":117,"r":-13.7},{"z":114,"r":-13.7},{"z":110.9,"r":-13.7},{"z":107.9,"r":-13.7},{"z":104.9,"r":-13.7},{"z":101.9,"r":-13.7},{"z":98.9,"r":-13.7},{"z":95.8,"r":-13.7},{"z":92.8,"r":-13.7},{"z":89.8,"r":-13.7},{"z":86.8,"r":-13.7},{"z":83.8,"r":-13.7},{"z":80.7,"r":-13.7},
{"z":120,"r":-16.8},{"z":117,"r":-16.8},{"z":114,"r":-16.8},{"z":110.9,"r":-16.8},{"z":107.9,"r":-16.8},{"z":104.9,"r":-16.8},{"z":101.9,"r":-16.8},{"z":98.9,"r":-16.8},{"z":95.8,"r":-16.8},{"z":92.8,"r":-16.8},{"z":89.8,"r":-16.8},{"z":86.8,"r":-16.8},{"z":83.8,"r":-16.8},{"z":80.7,"r":-16.8},
{"z":120,"r":-19.9},{"z":117,"r":-19.9},{"z":114,"r":-19.9},{"z":110.9,"r":-19.9},{"z":107.9,"r":-19.9},{"z":104.9,"r":-19.9},{"z":101.9,"r":-19.9},{"z":98.9,"r":-19.9},{"z":95.8,"r":-19.9},{"z":92.8,"r":-19.9},{"z":89.8,"r":-19.9},{"z":86.8,"r":-19.9},{"z":83.8,"r":-19.9},{"z":80.7,"r":-19.9},
{"z":120,"r":-23},{"z":117,"r":-23},{"z":114,"r":-23},{"z":110.9,"r":-23},{"z":107.9,"r":-23},{"z":104.9,"r":-23},{"z":101.9,"r":-23},{"z":98.9,"r":-23},{"z":95.8,"r":-23},{"z":92.8,"r":-23},{"z":89.8,"r":-23},{"z":86.8,"r":-23},{"z":83.8,"r":-23},{"z":80.7,"r":-23},
{"z":120,"r":-26.2},{"z":117,"r":-26.2},{"z":114,"r":-26.2},{"z":110.9,"r":-26.2},{"z":107.9,"r":-26.2},{"z":104.9,"r":-26.2},{"z":101.9,"r":-26.2},{"z":98.9,"r":-26.2},{"z":95.8,"r":-26.2},{"z":92.8,"r":-26.2},{"z":89.8,"r":-26.2},{"z":86.8,"r":-26.2},{"z":83.8,"r":-26.2},{"z":80.7,"r":-26.2},
{"z":120,"r":-29.4},{"z":117,"r":-29.4},{"z":114,"r":-29.4},{"z":110.9,"r":-29.4},{"z":107.9,"r":-29.4},{"z":104.9,"r":-29.4},{"z":101.9,"r":-29.4},{"z":98.9,"r":-29.4},{"z":95.8,"r":-29.4},{"z":92.8,"r":-29.4},{"z":89.8,"r":-29.4},{"z":86.8,"r":-29.4},{"z":83.8,"r":-29.4},{"z":80.7,"r":-29.4},{"z":77.7,"r":-29.4},{"z":74.7,"r":-29.4},{"z":71.7,"r":-29.4},{"z":68.7,"r":-29.4},{"z":65.6,"r":-29.4},{"z":62.6,"r":-29.4}],
"heads":[{"z":77.7,"r":1.6,"a":275,"s":0.05},{"z":74.7,"r":1.6,"a":275,"s":0.06},{"z":71.7,"r":1.6,"a":275,"s":0.08},{"z":68.7,"r":1.6,"a":275,"s":0.1},{"z":65.6,"r":1.6,"a":275,"s":0.13},{"z":62.6,"r":1.6,"a":275,"s":0.17},{"z":59.6,"r":1.6,"a":275,"s":0.22},{"z":56.6,"r":1.6,"a":275,"s":0.27},{"z":53.6,"r":1.6,"a":275,"s":0.32},{"z":50.5,"r":1.6,"a":275,"s":0.38},{"z":47.5,"r":1.6,"a":275,"s":0.45},
{"z":77.7,"r":4.6,"a":282,"s":0.05},{"z":74.7,"r":4.6,"a":282,"s":0.06},{"z":71.7,"r":4.6,"a":282,"s":0.08},{"z":68.7,"r":4.6,"a":282,"s":0.1},{"z":65.6,"r":4.6,"a":282,"s":0.13},{"z":62.6,"r":4.6,"a":282,"s":0.17},{"z":59.6,"r":4.6,"a":282,"s":0.22},{"z":56.6,"r":4.6,"a":282,"s":0.27},{"z":53.6,"r":4.6,"a":282,"s":0.32},{"z":50.5,"r":4.6,"a":282,"s":0.38},{"z":47.5,"r":4.6,"a":282,"s":0.45},
{"z":77.7,"r":7.7,"a":288,"s":0.05},{"z":74.7,"r":7.7,"a":288,"s":0.06},{"z":71.7,"r":7.7,"a":288,"s":0.08},{"z":68.7,"r":7.7,"a":288,"s":0.1},{"z":65.6,"r":7.7,"a":288,"s":0.13},{"z":62.6,"r":7.7,"a":288,"s":0.17},{"z":59.6,"r":7.7,"a":288,"s":0.22},{"z":56.6,"r":7.7,"a":288,"s":0.27},{"z":53.6,"r":7.7,"a":288,"s":0.32},{"z":50.5,"r":7.7,"a":288,"s":0.38},{"z":47.5,"r":7.7,"a":288,"s":0.45},
{"z":77.7,"r":10.7,"a":294,"s":0.05},{"z":74.7,"r":10.7,"a":294,"s":0.06},{"z":71.7,"r":10.7,"a":294,"s":0.08},{"z":68.7,"r":10.7,"a":294,"s":0.1},{"z":65.6,"r":10.7,"a":294,"s":0.13},{"z":62.6,"r":10.7,"a":294,"s":0.17},{"z":59.6,"r":10.7,"a":294,"s":0.22},{"z":56.6,"r":10.7,"a":294,"s":0.27},{"z":53.6,"r":10.7,"a":294,"s":0.32},{"z":50.5,"r":10.7,"a":294,"s":0.38},{"z":47.5,"r":10.7,"a":294,"s":0.45},
{"z":77.7,"r":13.7,"a":300,"s":0.05},{"z":74.7,"r":13.7,"a":300,"s":0.06},{"z":71.7,"r":13.7,"a":300,"s":0.08},{"z":68.7,"r":13.7,"a":300,"s":0.1},{"z":65.6,"r":13.7,"a":300,"s":0.13},{"z":62.6,"r":13.7,"a":300,"s":0.17},{"z":59.6,"r":13.7,"a":300,"s":0.22},{"z":56.6,"r":13.7,"a":300,"s":0.27},{"z":53.6,"r":13.7,"a":300,"s":0.32},{"z":50.5,"r":13.7,"a":300,"s":0.38},{"z":47.5,"r":13.7,"a":300,"s":0.45},
{"z":77.7,"r":16.8,"a":306,"s":0.05},{"z":74.7,"r":16.8,"a":306,"s":0.06},{"z":71.7,"r":16.8,"a":306,"s":0.08},{"z":68.7,"r":16.8,"a":306,"s":0.1},{"z":65.6,"r":16.8,"a":306,"s":0.13},{"z":62.6,"r":16.8,"a":306,"s":0.17},{"z":59.6,"r":16.8,"a":306,"s":0.22},{"z":56.6,"r":16.8,"a":306,"s":0.27},{"z":53.6,"r":16.8,"a":306,"s":0.32},{"z":50.5,"r":16.8,"a":306,"s":0.38},{"z":47.5,"r":16.8,"a":306,"s":0.45},
{"z":77.7,"r":19.9,"a":312,"s":0.05},{"z":74.7,"r":19.9,"a":312,"s":0.06},{"z":71.7,"r":19.9,"a":312,"s":0.08},{"z":68.7,"r":19.9,"a":312,"s":0.1},{"z":65.6,"r":19.9,"a":312,"s":0.13},{"z":62.6,"r":19.9,"a":312,"s":0.17},{"z":59.6,"r":19.9,"a":312,"s":0.22},{"z":56.6,"r":19.9,"a":312,"s":0.27},{"z":53.6,"r":19.9,"a":312,"s":0.32},{"z":50.5,"r":19.9,"a":312,"s":0.38},{"z":47.5,"r":19.9,"a":312,"s":0.45},
{"z":77.7,"r":23,"a":318,"s":0.05},{"z":74.7,"r":23,"a":318,"s":0.06},{"z":71.7,"r":23,"a":318,"s":0.08},{"z":68.7,"r":23,"a":318,"s":0.1},{"z":65.6,"r":23,"a":318,"s":0.13},{"z":62.6,"r":23,"a":318,"s":0.17},{"z":59.6,"r":23,"a":318,"s":0.22},{"z":56.6,"r":23,"a":318,"s":0.27},{"z":53.6,"r":23,"a":318,"s":0.32},{"z":50.5,"r":23,"a":318,"s":0.38},{"z":47.5,"r":23,"a":318,"s":0.45},
{"z":77.7,"r":26.2,"a":325,"s":0.05},{"z":74.7,"r":26.2,"a":325,"s":0.06},{"z":71.7,"r":26.2,"a":325,"s":0.08},{"z":68.7,"r":26.2,"a":325,"s":0.1},{"z":65.6,"r":26.2,"a":325,"s":0.13},{"z":62.6,"r":26.2,"a":325,"s":0.17},{"z":59.6,"r":26.2,"a":325,"s":0.22},{"z":56.6,"r":26.2,"a":325,"s":0.27},{"z":53.6,"r":26.2,"a":325,"s":0.32},{"z":50.5,"r":26.2,"a":325,"s":0.38},{"z":47.5,"r":26.2,"a":325,"s":0.45},
{"z":77.7,"r":-1.6,"a":265,"s":0.05},{"z":74.7,"r":-1.6,"a":265,"s":0.06},{"z":71.7,"r":-1.6,"a":265,"s":0.08},{"z":68.7,"r":-1.6,"a":265,"s":0.1},{"z":65.6,"r":-1.6,"a":265,"s":0.13},{"z":62.6,"r":-1.6,"a":265,"s":0.17},{"z":59.6,"r":-1.6,"a":265,"s":0.22},{"z":56.6,"r":-1.6,"a":265,"s":0.27},{"z":53.6,"r":-1.6,"a":265,"s":0.32},{"z":50.5,"r":-1.6,"a":265,"s":0.38},{"z":47.5,"r":-1.6,"a":265,"s":0.45},
{"z":77.7,"r":-4.6,"a":258,"s":0.05},{"z":74.7,"r":-4.6,"a":258,"s":0.06},{"z":71.7,"r":-4.6,"a":258,"s":0.08},{"z":68.7,"r":-4.6,"a":258,"s":0.1},{"z":65.6,"r":-4.6,"a":258,"s":0.13},{"z":62.6,"r":-4.6,"a":258,"s":0.17},{"z":59.6,"r":-4.6,"a":258,"s":0.22},{"z":56.6,"r":-4.6,"a":258,"s":0.27},{"z":53.6,"r":-4.6,"a":258,"s":0.32},{"z":50.5,"r":-4.6,"a":258,"s":0.38},{"z":47.5,"r":-4.6,"a":258,"s":0.45},
{"z":77.7,"r":-7.7,"a":252,"s":0.05},{"z":74.7,"r":-7.7,"a":252,"s":0.06},{"z":71.7,"r":-7.7,"a":252,"s":0.08},{"z":68.7,"r":-7.7,"a":252,"s":0.1},{"z":65.6,"r":-7.7,"a":252,"s":0.13},{"z":62.6,"r":-7.7,"a":252,"s":0.17},{"z":59.6,"r":-7.7,"a":252,"s":0.22},{"z":56.6,"r":-7.7,"a":252,"s":0.27},{"z":53.6,"r":-7.7,"a":252,"s":0.32},{"z":50.5,"r":-7.7,"a":252,"s":0.38},{"z":47.5,"r":-7.7,"a":252,"s":0.45},
{"z":77.7,"r":-10.7,"a":246,"s":0.05},{"z":74.7,"r":-10.7,"a":246,"s":0.06},{"z":71.7,"r":-10.7,"a":246,"s":0.08},{"z":68.7,"r":-10.7,"a":246,"s":0.1},{"z":65.6,"r":-10.7,"a":246,"s":0.13},{"z":62.6,"r":-10.7,"a":246,"s":0.17},{"z":59.6,"r":-10.7,"a":246,"s":0.22},{"z":56.6,"r":-10.7,"a":246,"s":0.27},{"z":53.6,"r":-10.7,"a":246,"s":0.32},{"z":50.5,"r":-10.7,"a":246,"s":0.38},{"z":47.5,"r":-10.7,"a":246,"s":0.45},
{"z":77.7,"r":-13.7,"a":240,"s":0.05},{"z":74.7,"r":-13.7,"a":240,"s":0.06},{"z":71.7,"r":-13.7,"a":240,"s":0.08},{"z":68.7,"r":-13.7,"a":240,"s":0.1},{"z":65.6,"r":-13.7,"a":240,"s":0.13},{"z":62.6,"r":-13.7,"a":240,"s":0.17},{"z":59.6,"r":-13.7,"a":240,"s":0.22},{"z":56.6,"r":-13.7,"a":240,"s":0.27},{"z":53.6,"r":-13.7,"a":240,"s":0.32},{"z":50.5,"r":-13.7,"a":240,"s":0.38},{"z":47.5,"r":-13.7,"a":240,"s":0.45},
{"z":77.7,"r":-16.8,"a":234,"s":0.05},{"z":74.7,"r":-16.8,"a":234,"s":0.06},{"z":71.7,"r":-16.8,"a":234,"s":0.08},{"z":68.7,"r":-16.8,"a":234,"s":0.1},{"z":65.6,"r":-16.8,"a":234,"s":0.13},{"z":62.6,"r":-16.8,"a":234,"s":0.17},{"z":59.6,"r":-16.8,"a":234,"s":0.22},{"z":56.6,"r":-16.8,"a":234,"s":0.27},{"z":53.6,"r":-16.8,"a":234,"s":0.32},{"z":50.5,"r":-16.8,"a":234,"s":0.38},{"z":47.5,"r":-16.8,"a":234,"s":0.45},
{"z":77.7,"r":-19.9,"a":228,"s":0.05},{"z":74.7,"r":-19.9,"a":228,"s":0.06},{"z":71.7,"r":-19.9,"a":228,"s":0.08},{"z":68.7,"r":-19.9,"a":228,"s":0.1},{"z":65.6,"r":-19.9,"a":228,"s":0.13},{"z":62.6,"r":-19.9,"a":228,"s":0.17},{"z":59.6,"r":-19.9,"a":228,"s":0.22},{"z":56.6,"r":-19.9,"a":228,"s":0.27},{"z":53.6,"r":-19.9,"a":228,"s":0.32},{"z":50.5,"r":-19.9,"a":228,"s":0.38},{"z":47.5,"r":-19.9,"a":228,"s":0.45},
{"z":77.7,"r":-23,"a":222,"s":0.05},{"z":74.7,"r":-23,"a":222,"s":0.06},{"z":71.7,"r":-23,"a":222,"s":0.08},{"z":68.7,"r":-23,"a":222,"s":0.1},{"z":65.6,"r":-23,"a":222,"s":0.13},{"z":62.6,"r":-23,"a":222,"s":0.17},{"z":59.6,"r":-23,"a":222,"s":0.22},{"z":56.6,"r":-23,"a":222,"s":0.27},{"z":53.6,"r":-23,"a":222,"s":0.32},{"z":50.5,"r":-23,"a":222,"s":0.38},{"z":47.5,"r":-23,"a":222,"s":0.45},
{"z":77.7,"r":-26.2,"a":215,"s":0.05},{"z":74.7,"r":-26.2,"a":215,"s":0.06},{"z":71.7,"r":-26.2,"a":215,"s":0.08},{"z":68.7,"r":-26.2,"a":215,"s":0.1},{"z":65.6,"r":-26.2,"a":215,"s":0.13},{"z":62.6,"r":-26.2,"a":215,"s":0.17},{"z":59.6,"r":-26.2,"a":215,"s":0.22},{"z":56.6,"r":-26.2,"a":215,"s":0.27},{"z":53.6,"r":-26.2,"a":215,"s":0.32},{"z":50.5,"r":-26.2,"a":215,"s":0.38},{"z":47.5,"r":-26.2,"a":215,"s":0.45}],
"arrows":[
{"z":42.1,"r":1.6,"z2":44.1,"r2":1.7,"a":274},{"z":42.1,"r":4.6,"z2":44.1,"r2":4.9,"a":278},{"z":42.1,"r":7.7,"z2":44.1,"r2":8.1,"a":282},{"z":42.1,"r":10.7,"z2":44.1,"r2":11.2,"a":284},{"z":42.1,"r":13.7,"z2":44.1,"r2":14.3,"a":286},{"z":42.1,"r":16.8,"z2":44.1,"r2":17.4,"a":288},{"z":42.1,"r":19.9,"z2":44.1,"r2":20.6,"a":290},{"z":42.1,"r":23,"z2":44.1,"r2":23.8,"a":292},{"z":42.1,"r":26.2,"z2":44.1,"r2":27.1,"a":298},
{"z":39.1,"r":1.6,"z2":41.7,"r2":1.8,"a":274},{"z":39.1,"r":4.6,"z2":41.7,"r2":5,"a":278},{"z":39.1,"r":7.7,"z2":41.7,"r2":8.2,"a":282},{"z":39.1,"r":10.7,"z2":41.7,"r2":11.3,"a":284},{"z":39.1,"r":13.7,"z2":41.7,"r2":14.4,"a":286},{"z":39.1,"r":16.8,"z2":41.7,"r2":17.6,"a":288},{"z":39.1,"r":19.9,"z2":41.7,"r2":20.8,"a":290},{"z":39.1,"r":23,"z2":41.7,"r2":24,"a":292},{"z":39.1,"r":26.2,"z2":41.7,"r2":27.4,"a":298},
{"z":36.1,"r":1.6,"z2":39.1,"r2":1.7,"a":272},{"z":36.1,"r":4.6,"z2":39.1,"r2":4.8,"a":274},{"z":36.1,"r":7.7,"z2":39.1,"r2":8,"a":276},{"z":36.1,"r":10.7,"z2":39.1,"r2":11.1,"a":278},{"z":36.1,"r":13.7,"z2":39.1,"r2":14.2,"a":280},{"z":36.1,"r":16.8,"z2":39.1,"r2":17.4,"a":282},{"z":36.1,"r":19.9,"z2":39.1,"r2":20.6,"a":284},{"z":36.1,"r":23,"z2":39.1,"r2":23.8,"a":286},{"z":36.1,"r":26.2,"z2":39.1,"r2":27.2,"a":290},
{"z":33,"r":1.6,"z2":36.5,"r2":1.7,"a":272},{"z":33,"r":4.6,"z2":36.5,"r2":4.8,"a":274},{"z":33,"r":7.7,"z2":36.5,"r2":8.1,"a":276},{"z":33,"r":10.7,"z2":36.5,"r2":11.2,"a":278},{"z":33,"r":13.7,"z2":36.5,"r2":14.3,"a":280},{"z":33,"r":16.8,"z2":36.5,"r2":17.5,"a":282},{"z":33,"r":19.9,"z2":36.5,"r2":20.8,"a":284},{"z":33,"r":23,"z2":36.5,"r2":24,"a":286},{"z":33,"r":26.2,"z2":36.5,"r2":27.4,"a":290},
{"z":30,"r":1.6,"z2":34,"r2":1.6,"a":270},{"z":30,"r":4.6,"z2":34,"r2":4.7,"a":272},{"z":30,"r":7.7,"z2":34,"r2":7.9,"a":273},{"z":30,"r":10.7,"z2":34,"r2":11,"a":274},{"z":30,"r":13.7,"z2":34,"r2":14.1,"a":275},{"z":30,"r":16.8,"z2":34,"r2":17.2,"a":276},{"z":30,"r":19.9,"z2":34,"r2":20.3,"a":276},{"z":30,"r":23,"z2":34,"r2":23.4,"a":276},{"z":30,"r":26.2,"z2":34,"r2":26.5,"a":274},
{"z":27,"r":1.6,"z2":31.5,"r2":1.6,"a":270},{"z":27,"r":4.6,"z2":31.5,"r2":4.8,"a":272},{"z":27,"r":7.7,"z2":31.5,"r2":7.9,"a":273},{"z":27,"r":10.7,"z2":31.5,"r2":11,"a":274},{"z":27,"r":13.7,"z2":31.5,"r2":14.1,"a":275},{"z":27,"r":16.8,"z2":31.5,"r2":17.3,"a":276},{"z":27,"r":19.9,"z2":31.5,"r2":20.4,"a":276},{"z":27,"r":23,"z2":31.5,"r2":23.5,"a":276},{"z":27,"r":26.2,"z2":31.5,"r2":26.5,"a":274},
{"z":42.1,"r":-1.6,"z2":44.1,"r2":-1.7,"a":266},{"z":42.1,"r":-4.6,"z2":44.1,"r2":-4.9,"a":262},{"z":42.1,"r":-7.7,"z2":44.1,"r2":-8.1,"a":258},{"z":42.1,"r":-10.7,"z2":44.1,"r2":-11.2,"a":256},{"z":42.1,"r":-13.7,"z2":44.1,"r2":-14.3,"a":254},{"z":42.1,"r":-16.8,"z2":44.1,"r2":-17.4,"a":252},{"z":42.1,"r":-19.9,"z2":44.1,"r2":-20.6,"a":250},{"z":42.1,"r":-23,"z2":44.1,"r2":-23.8,"a":248},{"z":42.1,"r":-26.2,"z2":44.1,"r2":-27.1,"a":242},
{"z":39.1,"r":-1.6,"z2":41.7,"r2":-1.8,"a":266},{"z":39.1,"r":-4.6,"z2":41.7,"r2":-5,"a":262},{"z":39.1,"r":-7.7,"z2":41.7,"r2":-8.2,"a":258},{"z":39.1,"r":-10.7,"z2":41.7,"r2":-11.3,"a":256},{"z":39.1,"r":-13.7,"z2":41.7,"r2":-14.4,"a":254},{"z":39.1,"r":-16.8,"z2":41.7,"r2":-17.6,"a":252},{"z":39.1,"r":-19.9,"z2":41.7,"r2":-20.8,"a":250},{"z":39.1,"r":-23,"z2":41.7,"r2":-24,"a":248},{"z":39.1,"r":-26.2,"z2":41.7,"r2":-27.4,"a":242},
{"z":36.1,"r":-1.6,"z2":39.1,"r2":-1.7,"a":268},{"z":36.1,"r":-4.6,"z2":39.1,"r2":-4.8,"a":266},{"z":36.1,"r":-7.7,"z2":39.1,"r2":-8,"a":264},{"z":36.1,"r":-10.7,"z2":39.1,"r2":-11.1,"a":262},{"z":36.1,"r":-13.7,"z2":39.1,"r2":-14.2,"a":260},{"z":36.1,"r":-16.8,"z2":39.1,"r2":-17.4,"a":258},{"z":36.1,"r":-19.9,"z2":39.1,"r2":-20.6,"a":256},{"z":36.1,"r":-23,"z2":39.1,"r2":-23.8,"a":254},{"z":36.1,"r":-26.2,"z2":39.1,"r2":-27.2,"a":250},
{"z":33,"r":-1.6,"z2":36.5,"r2":-1.7,"a":268},{"z":33,"r":-4.6,"z2":36.5,"r2":-4.8,"a":266},{"z":33,"r":-7.7,"z2":36.5,"r2":-8.1,"a":264},{"z":33,"r":-10.7,"z2":36.5,"r2":-11.2,"a":262},{"z":33,"r":-13.7,"z2":36.5,"r2":-14.3,"a":260},{"z":33,"r":-16.8,"z2":36.5,"r2":-17.5,"a":258},{"z":33,"r":-19.9,"z2":36.5,"r2":-20.8,"a":256},{"z":33,"r":-23,"z2":36.5,"r2":-24,"a":254},{"z":33,"r":-26.2,"z2":36.5,"r2":-27.4,"a":250},
{"z":30,"r":-1.6,"z2":34,"r2":-1.6,"a":270},{"z":30,"r":-4.6,"z2":34,"r2":-4.7,"a":268},{"z":30,"r":-7.7,"z2":34,"r2":-7.9,"a":267},{"z":30,"r":-10.7,"z2":34,"r2":-11,"a":266},{"z":30,"r":-13.7,"z2":34,"r2":-14.1,"a":265},{"z":30,"r":-16.8,"z2":34,"r2":-17.2,"a":264},{"z":30,"r":-19.9,"z2":34,"r2":-20.3,"a":264},{"z":30,"r":-23,"z2":34,"r2":-23.4,"a":264},{"z":30,"r":-26.2,"z2":34,"r2":-26.5,"a":266},
{"z":27,"r":-1.6,"z2":31.5,"r2":-1.6,"a":270},{"z":27,"r":-4.6,"z2":31.5,"r2":-4.8,"a":268},{"z":27,"r":-7.7,"z2":31.5,"r2":-7.9,"a":267},{"z":27,"r":-10.7,"z2":31.5,"r2":-11,"a":266},{"z":27,"r":-13.7,"z2":31.5,"r2":-14.1,"a":265},{"z":27,"r":-16.8,"z2":31.5,"r2":-17.3,"a":264},{"z":27,"r":-19.9,"z2":31.5,"r2":-20.4,"a":264},{"z":27,"r":-23,"z2":31.5,"r2":-23.5,"a":264},{"z":27,"r":-26.2,"z2":31.5,"r2":-26.5,"a":266},
{"z":59,"r":29.4,"z2":59,"r2":31.6,"a":0},{"z":56.4,"r":29.4,"z2":56.4,"r2":31.9,"a":0},{"z":53.3,"r":29.4,"z2":53.3,"r2":32,"a":0},{"z":50.4,"r":29.4,"z2":50.4,"r2":32.3,"a":0},{"z":47.5,"r":29.4,"z2":47.9,"r2":33.4,"a":350},{"z":45,"r":29.4,"z2":45.8,"r2":34.8,"a":345},{"z":42.6,"r":29.4,"z2":44,"r2":36.8,"a":340},{"z":37,"r":29.4,"z2":41.7,"r2":40.4,"a":336},
{"z":59,"r":-29.4,"z2":59,"r2":-31.6,"a":180},{"z":56.4,"r":-29.4,"z2":56.4,"r2":-31.9,"a":180},{"z":53.3,"r":-29.4,"z2":53.3,"r2":-32,"a":180},{"z":50.4,"r":-29.4,"z2":50.4,"r2":-32.3,"a":180},{"z":47.5,"r":-29.4,"z2":47.9,"r2":-33.4,"a":190},{"z":45,"r":-29.4,"z2":45.8,"r2":-34.8,"a":195},{"z":42.6,"r":-29.4,"z2":44,"r2":-36.8,"a":200},{"z":37,"r":-29.4,"z2":41.7,"r2":-40.4,"a":204},
{"z":15.7,"r":30.4,"z2":22.5,"r2":29.5,"a":258},{"z":22.5,"r":29.5,"z2":28.8,"r2":27.9,"a":255},{"z":14.2,"r":26.7,"z2":20.1,"r2":27,"a":272},{"z":20.1,"r":26.5,"z2":25.4,"r2":23.7,"a":241},{"z":24,"r":26.3,"z2":28.4,"r2":22.3,"a":227},{"z":14,"r":23,"z2":18.1,"r2":24.2,"a":286},{"z":17.1,"r":23,"z2":20.8,"r2":20.9,"a":239},{"z":20.8,"r":22.8,"z2":23.2,"r2":19.1,"a":212},{"z":24,"r":22.8,"z2":27.1,"r2":17,"a":207},{"z":24,"r":19.3,"z2":26.4,"r2":13,"a":200},{"z":24,"r":16.3,"z2":25.7,"r2":10,"a":195},{"z":23.7,"r":13.3,"z2":25.3,"r2":7.4,"a":195},{"z":23.7,"r":10.2,"z2":24.7,"r2":4.4,"a":189},{"z":24,"r":7.4,"z2":24.2,"r2":0.7,"a":182},
{"z":14.2,"r":19.6,"z2":14.2,"r2":19.9,"a":0},{"z":1.3,"r":7.9,"z2":22.7,"r2":19.1,"a":299},{"z":1.3,"r":4.9,"z2":23,"r2":10.9,"a":286},{"z":1.3,"r":1.9,"z2":23.7,"r2":3.5,"a":274},{"z":1.3,"r":1.5,"z2":20.3,"r2":1.3,"a":269},{"z":17.4,"r":19.8,"z2":17.4,"r2":17.2,"a":180},{"z":21,"r":18.1,"z2":21.3,"r2":14.6,"a":184},{"z":20.5,"r":15.1,"z2":19.3,"r2":7.7,"a":171},{"z":20.3,"r":7.2,"z2":18.1,"r2":5.3,"a":132},{"z":17.9,"r":17,"z2":15.4,"r2":14.2,"a":140},{"z":17.1,"r":13.5,"z2":14.4,"r2":11.6,"a":126},{"z":17.1,"r":10.2,"z2":14,"r2":9.3,"a":107},{"z":6.9,"r":15.3,"z2":14,"r2":13.4,"a":254},{"z":7.4,"r":12.3,"z2":14,"r2":10.6,"a":254},{"z":6.9,"r":9.1,"z2":10.8,"r2":7.9,"a":253},{"z":10.8,"r":7.4,"z2":17.1,"r2":7.4,"a":270},{"z":6.1,"r":6.3,"z2":13.2,"r2":5.8,"a":266},{"z":5.9,"r":5.8,"z2":17.1,"r2":4.7,"a":264},{"z":6.4,"r":2.1,"z2":20.5,"r2":1.6,"a":268},
{"z":5.4,"r":15.8,"z2":9.5,"r2":36.3,"a":348},{"z":5.2,"r":17.5,"z2":8.8,"r2":35.5,"a":348},{"z":5.4,"r":20.3,"z2":7.2,"r2":35.2,"a":352},{"z":5.7,"r":23.2,"z2":6,"r2":36.6,"a":358},{"z":4.9,"r":24.3,"z2":4,"r2":34.3,"a":6},{"z":8.5,"r":26,"z2":11.1,"r2":32.6,"a":337},{"z":7.5,"r":24.3,"z2":10.1,"r2":32.9,"a":341},{"z":6.4,"r":25.5,"z2":9.3,"r2":32.3,"a":335},{"z":5.9,"r":17.5,"z2":8,"r2":34.9,"a":352},{"z":6.4,"r":20.3,"z2":10,"r2":33.5,"a":343},
{"z":1.3,"r":11.2,"z2":3.6,"r2":20.3,"a":344},{"z":1,"r":13.5,"z2":2.6,"r2":16.4,"a":329},{"z":4.9,"r":18.6,"z2":2.8,"r2":15.8,"a":143},{"z":4.4,"r":12.4,"z2":2.8,"r2":16.4,"a":23},{"z":2.3,"r":20.3,"z2":2.8,"r2":16.4,"a":188},{"z":1.3,"r":29.5,"z2":-0.8,"r2":26.9,"a":140},{"z":1.5,"r":26,"z2":0.3,"r2":19.8,"a":168},
{"z":6.1,"r":7.7,"z2":13,"r2":17.4,"a":326},{"z":5.9,"r":10.5,"z2":9.3,"r2":15.1,"a":325},{"z":10.8,"r":19.8,"z2":13.2,"r2":24.6,"a":335},{"z":7.4,"r":19.8,"z2":10.3,"r2":24,"a":326},{"z":10.8,"r":16.7,"z2":9.6,"r2":19.5,"a":23},{"z":4.4,"r":10.9,"z2":6.1,"r2":19.8,"a":350},{"z":30.6,"r":29.2,"z2":35.8,"r2":29.2,"a":270},
{"z":15.7,"r":-30.4,"z2":22.5,"r2":-29.5,"a":282},{"z":22.5,"r":-29.5,"z2":28.8,"r2":-27.9,"a":285},{"z":14.2,"r":-26.7,"z2":20.1,"r2":-27,"a":268},{"z":20.1,"r":-26.5,"z2":25.4,"r2":-23.7,"a":299},{"z":24,"r":-26.3,"z2":28.4,"r2":-22.3,"a":313},{"z":14,"r":-23,"z2":18.1,"r2":-24.2,"a":254},{"z":17.1,"r":-23,"z2":20.8,"r2":-20.9,"a":301},{"z":20.8,"r":-22.8,"z2":23.2,"r2":-19.1,"a":328},{"z":24,"r":-22.8,"z2":27.1,"r2":-17,"a":333},{"z":24,"r":-19.3,"z2":26.4,"r2":-13,"a":340},{"z":24,"r":-16.3,"z2":25.7,"r2":-10,"a":345},{"z":23.7,"r":-13.3,"z2":25.3,"r2":-7.4,"a":345},{"z":23.7,"r":-10.2,"z2":24.7,"r2":-4.4,"a":351},{"z":24,"r":-7.4,"z2":24.2,"r2":-0.7,"a":358},
{"z":14.2,"r":-19.6,"z2":14.2,"r2":-19.9,"a":180},{"z":1.3,"r":-7.9,"z2":22.7,"r2":-19.1,"a":241},{"z":1.3,"r":-4.9,"z2":23,"r2":-10.9,"a":254},{"z":1.3,"r":-1.9,"z2":23.7,"r2":-3.5,"a":266},{"z":1.3,"r":-1.5,"z2":20.3,"r2":-1.3,"a":271},{"z":17.4,"r":-19.8,"z2":17.4,"r2":-17.2,"a":0},{"z":21,"r":-18.1,"z2":21.3,"r2":-14.6,"a":356},{"z":20.5,"r":-15.1,"z2":19.3,"r2":-7.7,"a":9},{"z":20.3,"r":-7.2,"z2":18.1,"r2":-5.3,"a":48},{"z":17.9,"r":-17,"z2":15.4,"r2":-14.2,"a":40},{"z":17.1,"r":-13.5,"z2":14.4,"r2":-11.6,"a":54},{"z":17.1,"r":-10.2,"z2":14,"r2":-9.3,"a":73},{"z":6.9,"r":-15.3,"z2":14,"r2":-13.4,"a":286},{"z":7.4,"r":-12.3,"z2":14,"r2":-10.6,"a":286},{"z":6.9,"r":-9.1,"z2":10.8,"r2":-7.9,"a":287},{"z":10.8,"r":-7.4,"z2":17.1,"r2":-7.4,"a":270},{"z":6.1,"r":-6.3,"z2":13.2,"r2":-5.8,"a":274},{"z":5.9,"r":-5.8,"z2":17.1,"r2":-4.7,"a":276},{"z":6.4,"r":-2.1,"z2":20.5,"r2":-1.6,"a":272},
{"z":5.4,"r":-15.8,"z2":9.5,"r2":-36.3,"a":192},{"z":5.2,"r":-17.5,"z2":8.8,"r2":-35.5,"a":192},{"z":5.4,"r":-20.3,"z2":7.2,"r2":-35.2,"a":188},{"z":5.7,"r":-23.2,"z2":6,"r2":-36.6,"a":182},{"z":4.9,"r":-24.3,"z2":4,"r2":-34.3,"a":174},{"z":8.5,"r":-26,"z2":11.1,"r2":-32.6,"a":203},{"z":7.5,"r":-24.3,"z2":10.1,"r2":-32.9,"a":199},{"z":6.4,"r":-25.5,"z2":9.3,"r2":-32.3,"a":205},{"z":5.9,"r":-17.5,"z2":8,"r2":-34.9,"a":188},{"z":6.4,"r":-20.3,"z2":10,"r2":-33.5,"a":197},
{"z":1.3,"r":-11.2,"z2":3.6,"r2":-20.3,"a":196},{"z":1,"r":-13.5,"z2":2.6,"r2":-16.4,"a":211},{"z":4.9,"r":-18.6,"z2":2.8,"r2":-15.8,"a":37},{"z":4.4,"r":-12.4,"z2":2.8,"r2":-16.4,"a":157},{"z":2.3,"r":-20.3,"z2":2.8,"r2":-16.4,"a":352},{"z":1.3,"r":-29.5,"z2":-0.8,"r2":-26.9,"a":40},{"z":1.5,"r":-26,"z2":0.3,"r2":-19.8,"a":12},
{"z":6.1,"r":-7.7,"z2":13,"r2":-17.4,"a":214},{"z":5.9,"r":-10.5,"z2":9.3,"r2":-15.1,"a":215},{"z":10.8,"r":-19.8,"z2":13.2,"r2":-24.6,"a":205},{"z":7.4,"r":-19.8,"z2":10.3,"r2":-24,"a":214},{"z":10.8,"r":-16.7,"z2":9.6,"r2":-19.5,"a":157},{"z":4.4,"r":-10.9,"z2":6.1,"r2":-19.8,"a":190},{"z":30.6,"r":-29.2,"z2":35.8,"r2":-29.2,"a":270}],
"text1":[{"z":137.5,"r":-44.2,"l":"scalar 1"},{"z":137.6,"r":-22.6,"l":"concentr."},{"z":137.6,"r":0.1,"l":"and vectors"},{"z":132.6,"r":-18,"l":"("},{"z":132.6,"r":-8,"l":"= 4.67E+00)"}],
"text2":[{"z":137.3,"r":-44.1,"l":"pressure"},{"z":137.9,"r":0,"l":"and vectors"},{"z":132.7,"r":-17.8,"l":"("},{"z":132.7,"r":-8,"l":"= 4.67E+00)"},{"z":-1.5,"r":2.9,"l":"H"}],
"ref1":[{"z":135.4,"r":-14.4,"z2":135.4,"r2":10.3,"a":0}],
"ref2":[{"z":135.5,"r":-14.7,"z2":135.5,"r2":10.6,"a":0}]
},
"vconcat":[
{"width":899,"height":56,"layer":[
{"data":{"name":"ramp"},"mark":{"type":"rect","strokeWidth":0.6},"encoding":{"x":{"field":"a","type":"quantitative","title":null,"scale":{"domain":[1,0],"range":[0,887],"nice":false,"zero":false},"axis":null},"x2":{"field":"b"},"y":{"datum":0,"type":"quantitative","scale":{"domain":[0,1],"range":[56,2]},"axis":null},"y2":{"datum":1},"color":{"field":"t","type":"quantitative","legend":null,"scale":{"domain":[0,0.05,0.12,0.2,0.3,0.36,0.42,0.5,0.58,0.67,0.72,0.8,0.84,0.9,0.95,1,1.04,1.08],"range":["#2c48a8","#3a5cb8","#3b7fd8","#2b8fe6","#2e96e0","#3f9db0","#4a9a6a","#3f9238","#7fb036","#b0c82c","#d8d418","#eed415","#edb822","#f2902a","#ee5a30","#e6403a","#f09090","#f8d0d0"]}},"stroke":{"field":"t","type":"quantitative","legend":null,"scale":{"domain":[0,0.05,0.12,0.2,0.3,0.36,0.42,0.5,0.58,0.67,0.72,0.8,0.84,0.9,0.95,1,1.04,1.08],"range":["#2c48a8","#3a5cb8","#3b7fd8","#2b8fe6","#2e96e0","#3f9db0","#4a9a6a","#3f9238","#7fb036","#b0c82c","#d8d418","#eed415","#edb822","#f2902a","#ee5a30","#e6403a","#f09090","#f8d0d0"]}}}},
{"data":{"name":"labels1"},"transform":[{"filter":"datum.v>0&&datum.v<1"}],"mark":{"type":"rule","color":"#111","strokeWidth":1.5},"encoding":{"x":{"field":"v","type":"quantitative"},"y":{"datum":0,"type":"quantitative"},"y2":{"datum":1}}},
{"data":{"name":"whole"},"mark":{"type":"rect","fill":"transparent","stroke":"#111","strokeWidth":2},"encoding":{"x":{"field":"a","type":"quantitative"},"x2":{"field":"b"},"y":{"datum":0,"type":"quantitative"},"y2":{"datum":1}}},
{"data":{"name":"labels1"},"transform":[{"filter":"datum.v>0"}],"mark":{"type":"text","angle":270,"align":"left","baseline":"middle","dx":4,"dy":21,"font":"Liberation Mono","fontSize":23,"color":"#2a2a2a"},"encoding":{"x":{"field":"v","type":"quantitative"},"y":{"datum":1,"type":"quantitative"},"text":{"field":"l"}}},
{"data":{"name":"labels1"},"transform":[{"filter":"datum.v==0"}],"mark":{"type":"text","angle":270,"align":"left","baseline":"middle","dx":4,"dy":10,"font":"Liberation Mono","fontSize":23,"color":"#2a2a2a"},"encoding":{"x":{"field":"v","type":"quantitative"},"y":{"datum":1,"type":"quantitative"},"text":{"field":"l"}}}
]},
{"width":899,"height":573.5,"layer":[
{"data":{"name":"frame"},"mark":{"type":"rect","fill":"transparent","stroke":"#333","strokeWidth":1.5},"encoding":{"x":{"field":"z0","type":"quantitative","title":"z","scale":{"domain":[130,0],"range":[3,891],"nice":false,"zero":false},"axis":{"orient":"bottom","offset":17,"values":[0,65,130],"title":"z","titleAngle":270,"titleY":41,"titleAlign":"center","titleBaseline":"middle","labelAngle":270,"labelAlign":"right","labelBaseline":"middle","labelPadding":13,"tickSize":6,"labelExpr":"datum.value==65?'':format(datum.value,'.1f')","labelOffset":{"condition":{"test":"datum.value==0","value":32},"value":9}}},"x2":{"field":"z1"},"y":{"field":"r0","type":"quantitative","title":"r","scale":{"domain":[-40,40],"nice":false,"zero":false},"axis":{"orient":"right","offset":17,"values":[-40,-20,0,20,40],"title":"r","titleAngle":270,"titleX":57,"titleY":280,"titleAlign":"center","titleBaseline":"middle","labelAngle":270,"labelAlign":"center","labelBaseline":"middle","labelPadding":30,"tickSize":6,"labelExpr":"datum.value%40==0?format(datum.value,'.1f'):''","labelOffset":{"condition":{"test":"datum.value==-40","value":-9},"value":11}}},"y2":{"field":"r1"}}},
{"data":{"name":"conc"},"mark":{"type":"rect","strokeWidth":0.6},"encoding":{"x":{"field":"z0","type":"quantitative"},"x2":{"field":"z1"},"y":{"field":"r0","type":"quantitative"},"y2":{"field":"r1"},"color":{"field":"t","type":"quantitative","legend":null,"scale":{"domain":[0,0.05,0.12,0.2,0.3,0.36,0.42,0.5,0.58,0.67,0.72,0.8,0.84,0.9,0.95,1,1.04,1.08],"range":["#2c48a8","#3a5cb8","#3b7fd8","#2b8fe6","#2e96e0","#3f9db0","#4a9a6a","#3f9238","#7fb036","#b0c82c","#d8d418","#eed415","#edb822","#f2902a","#ee5a30","#e6403a","#f09090","#f8d0d0"]}},"stroke":{"field":"t","type":"quantitative","legend":null,"scale":{"domain":[0,0.05,0.12,0.2,0.3,0.36,0.42,0.5,0.58,0.67,0.72,0.8,0.84,0.9,0.95,1,1.04,1.08],"range":["#2c48a8","#3a5cb8","#3b7fd8","#2b8fe6","#2e96e0","#3f9db0","#4a9a6a","#3f9238","#7fb036","#b0c82c","#d8d418","#eed415","#edb822","#f2902a","#ee5a30","#e6403a","#f09090","#f8d0d0"]}}}},
{"data":{"name":"geom"},"mark":{"type":"rect","color":"#a39ca3"},"encoding":{"x":{"field":"z0","type":"quantitative"},"x2":{"field":"z1"},"y":{"field":"r0","type":"quantitative"},"y2":{"field":"r1"}}},
{"data":{"name":"tan"},"transform":[{"filter":"datum.z>72"}],"mark":{"type":"point","shape":"diamond","filled":true,"opacity":1,"size":34,"color":"#c4a678"},"encoding":{"x":{"field":"z","type":"quantitative"},"y":{"field":"r","type":"quantitative"}}},
{"data":{"name":"tan"},"transform":[{"filter":"datum.z<=72"}],"mark":{"type":"point","shape":"diamond","filled":true,"opacity":1,"size":34,"color":"#76a8ac"},"encoding":{"x":{"field":"z","type":"quantitative"},"y":{"field":"r","type":"quantitative"}}},
{"data":{"name":"lines"},"mark":{"type":"line","color":"#111","strokeWidth":1.5},"encoding":{"x":{"field":"z","type":"quantitative"},"y":{"field":"r","type":"quantitative"},"detail":{"field":"g"},"order":{"field":"o","type":"quantitative"}}},
{"data":{"name":"black"},"mark":{"type":"point","shape":"circle","filled":true,"opacity":1,"size":9,"color":"#0a0a0a"},"encoding":{"x":{"field":"z","type":"quantitative"},"y":{"field":"r","type":"quantitative"}}},
{"data":{"name":"heads"},"mark":{"type":"point","shape":"M0,0L.5,1.6L0,1.3L-.5,1.6Z","filled":true,"opacity":1,"color":"#0a0a0a"},"encoding":{"x":{"field":"z","type":"quantitative"},"y":{"field":"r","type":"quantitative"},"angle":{"field":"a","type":"quantitative","scale":{"domain":[0,360],"range":[0,360]},"legend":null},"size":{"field":"s","type":"quantitative","legend":null,"scale":{"domain":[0,0.5],"range":[8,230]}}}},
{"data":{"name":"arrows"},"mark":{"type":"rule","color":"#111","strokeWidth":1.6},"encoding":{"x":{"field":"z","type":"quantitative"},"x2":{"field":"z2"},"y":{"field":"r","type":"quantitative"},"y2":{"field":"r2"}}},
{"data":{"name":"arrows"},"mark":{"type":"point","shape":"M0,0L.5,1.6L0,1.3L-.5,1.6Z","filled":true,"opacity":1,"size":230,"color":"#0a0a0a"},"encoding":{"x":{"field":"z2","type":"quantitative"},"y":{"field":"r2","type":"quantitative"},"angle":{"field":"a","type":"quantitative","scale":{"domain":[0,360],"range":[0,360]},"legend":null}}},
{"data":{"name":"ref1"},"mark":{"type":"rule","color":"#222","strokeWidth":1.4},"encoding":{"x":{"field":"z","type":"quantitative"},"x2":{"field":"z2"},"y":{"field":"r","type":"quantitative"},"y2":{"field":"r2"}}},
{"data":{"name":"ref1"},"mark":{"type":"point","shape":"M0,0L.5,1.6L0,1.3L-.5,1.6Z","filled":true,"opacity":1,"size":120,"color":"#111"},"encoding":{"x":{"field":"z2","type":"quantitative"},"y":{"field":"r2","type":"quantitative"}}},
{"data":{"name":"text1"},"mark":{"type":"text","angle":270,"align":"left","baseline":"middle","font":"Liberation Mono","fontSize":23,"color":"#2a2a2a"},"encoding":{"x":{"field":"z","type":"quantitative"},"y":{"field":"r","type":"quantitative"},"text":{"field":"l"}}}
]},
{"width":899,"height":212,"layer":[
{"data":{"name":"ramp"},"mark":{"type":"rect","strokeWidth":0.6},"encoding":{"x":{"field":"a","type":"quantitative","title":null,"scale":{"domain":[1,0],"range":[8,896],"nice":false,"zero":false},"axis":null},"x2":{"field":"b"},"y":{"datum":0,"type":"quantitative","scale":{"domain":[0,1],"range":[212,159]},"axis":null},"y2":{"datum":1},"color":{"field":"t","type":"quantitative","legend":null,"scale":{"domain":[0,0.05,0.12,0.2,0.3,0.36,0.42,0.5,0.58,0.67,0.72,0.8,0.84,0.9,0.95,1,1.04,1.08],"range":["#2c48a8","#3a5cb8","#3b7fd8","#2b8fe6","#2e96e0","#3f9db0","#4a9a6a","#3f9238","#7fb036","#b0c82c","#d8d418","#eed415","#edb822","#f2902a","#ee5a30","#e6403a","#f09090","#f8d0d0"]}},"stroke":{"field":"t","type":"quantitative","legend":null,"scale":{"domain":[0,0.05,0.12,0.2,0.3,0.36,0.42,0.5,0.58,0.67,0.72,0.8,0.84,0.9,0.95,1,1.04,1.08],"range":["#2c48a8","#3a5cb8","#3b7fd8","#2b8fe6","#2e96e0","#3f9db0","#4a9a6a","#3f9238","#7fb036","#b0c82c","#d8d418","#eed415","#edb822","#f2902a","#ee5a30","#e6403a","#f09090","#f8d0d0"]}}}},
{"data":{"name":"labels2"},"transform":[{"filter":"datum.v>0&&datum.v<1"}],"mark":{"type":"rule","color":"#111","strokeWidth":1.5},"encoding":{"x":{"field":"v","type":"quantitative"},"y":{"datum":0,"type":"quantitative"},"y2":{"datum":1}}},
{"data":{"name":"whole"},"mark":{"type":"rect","fill":"transparent","stroke":"#111","strokeWidth":2},"encoding":{"x":{"field":"a","type":"quantitative"},"x2":{"field":"b"},"y":{"datum":0,"type":"quantitative"},"y2":{"datum":1}}},
{"data":{"name":"labels2"},"transform":[{"filter":"datum.v>0"}],"mark":{"type":"text","angle":270,"align":"left","baseline":"middle","dx":4,"dy":21,"font":"Liberation Mono","fontSize":23,"color":"#2a2a2a"},"encoding":{"x":{"field":"v","type":"quantitative"},"y":{"datum":1,"type":"quantitative"},"text":{"field":"l"}}},
{"data":{"name":"labels2"},"transform":[{"filter":"datum.v==0"}],"mark":{"type":"text","angle":270,"align":"left","baseline":"middle","dx":4,"dy":10,"font":"Liberation Mono","fontSize":23,"color":"#2a2a2a"},"encoding":{"x":{"field":"v","type":"quantitative"},"y":{"datum":1,"type":"quantitative"},"text":{"field":"l"}}}
]},
{"width":899,"height":563,"layer":[
{"data":{"name":"frame"},"mark":{"type":"rect","fill":"transparent","stroke":"#333","strokeWidth":1.5},"encoding":{"x":{"field":"z0","type":"quantitative","title":"z","scale":{"domain":[130,0],"range":[11.5,898.5],"nice":false,"zero":false},"axis":{"orient":"bottom","offset":17,"values":[0,65,130],"title":"z","titleAngle":270,"titleY":41,"titleAlign":"center","titleBaseline":"middle","labelAngle":270,"labelAlign":"right","labelBaseline":"middle","labelPadding":13,"tickSize":6,"labelExpr":"datum.value==65?'':format(datum.value,'.1f')","labelOffset":{"condition":{"test":"datum.value==0","value":32},"value":9}}},"x2":{"field":"z1"},"y":{"field":"r0","type":"quantitative","title":"r","scale":{"domain":[-40,40],"nice":false,"zero":false},"axis":{"orient":"right","offset":25,"values":[-40,-20,0,20,40],"title":"r","titleAngle":270,"titleX":52,"titleY":276,"titleAlign":"center","titleBaseline":"middle","labelAngle":270,"labelAlign":"center","labelBaseline":"middle","labelPadding":30,"tickSize":6,"labelExpr":"datum.value%40==0?format(datum.value,'.1f'):''","labelOffset":{"condition":{"test":"datum.value==-40","value":-3},"value":12}}},"y2":{"field":"r1"}}},
{"data":{"name":"press"},"mark":{"type":"rect","strokeWidth":0.6},"encoding":{"x":{"field":"z0","type":"quantitative"},"x2":{"field":"z1"},"y":{"field":"r0","type":"quantitative"},"y2":{"field":"r1"},"color":{"field":"t","type":"quantitative","legend":null,"scale":{"domain":[0,0.05,0.12,0.2,0.3,0.36,0.42,0.5,0.58,0.67,0.72,0.8,0.84,0.9,0.95,1,1.04,1.08],"range":["#2c48a8","#3a5cb8","#3b7fd8","#2b8fe6","#2e96e0","#3f9db0","#4a9a6a","#3f9238","#7fb036","#b0c82c","#d8d418","#eed415","#edb822","#f2902a","#ee5a30","#e6403a","#f09090","#f8d0d0"]}},"stroke":{"field":"t","type":"quantitative","legend":null,"scale":{"domain":[0,0.05,0.12,0.2,0.3,0.36,0.42,0.5,0.58,0.67,0.72,0.8,0.84,0.9,0.95,1,1.04,1.08],"range":["#2c48a8","#3a5cb8","#3b7fd8","#2b8fe6","#2e96e0","#3f9db0","#4a9a6a","#3f9238","#7fb036","#b0c82c","#d8d418","#eed415","#edb822","#f2902a","#ee5a30","#e6403a","#f09090","#f8d0d0"]}}}},
{"data":{"name":"geom"},"mark":{"type":"rect","color":"#a39ca3"},"encoding":{"x":{"field":"z0","type":"quantitative"},"x2":{"field":"z1"},"y":{"field":"r0","type":"quantitative"},"y2":{"field":"r1"}}},
{"data":{"name":"tan"},"transform":[{"filter":"datum.z>52"}],"mark":{"type":"point","shape":"diamond","filled":true,"opacity":1,"size":34,"color":"#b89a80"},"encoding":{"x":{"field":"z","type":"quantitative"},"y":{"field":"r","type":"quantitative"}}},
{"data":{"name":"tan"},"transform":[{"filter":"datum.z<=52"}],"mark":{"type":"point","shape":"diamond","filled":true,"opacity":1,"size":34,"color":"#a8a0b8"},"encoding":{"x":{"field":"z","type":"quantitative"},"y":{"field":"r","type":"quantitative"}}},
{"data":{"name":"lines"},"mark":{"type":"line","color":"#111","strokeWidth":1.5},"encoding":{"x":{"field":"z","type":"quantitative"},"y":{"field":"r","type":"quantitative"},"detail":{"field":"g"},"order":{"field":"o","type":"quantitative"}}},
{"data":{"name":"black"},"mark":{"type":"point","shape":"circle","filled":true,"opacity":1,"size":9,"color":"#0a0a0a"},"encoding":{"x":{"field":"z","type":"quantitative"},"y":{"field":"r","type":"quantitative"}}},
{"data":{"name":"heads"},"mark":{"type":"point","shape":"M0,0L.5,1.6L0,1.3L-.5,1.6Z","filled":true,"opacity":1,"color":"#0a0a0a"},"encoding":{"x":{"field":"z","type":"quantitative"},"y":{"field":"r","type":"quantitative"},"angle":{"field":"a","type":"quantitative","scale":{"domain":[0,360],"range":[0,360]},"legend":null},"size":{"field":"s","type":"quantitative","legend":null,"scale":{"domain":[0,0.5],"range":[8,230]}}}},
{"data":{"name":"arrows"},"mark":{"type":"rule","color":"#111","strokeWidth":1.6},"encoding":{"x":{"field":"z","type":"quantitative"},"x2":{"field":"z2"},"y":{"field":"r","type":"quantitative"},"y2":{"field":"r2"}}},
{"data":{"name":"arrows"},"mark":{"type":"point","shape":"M0,0L.5,1.6L0,1.3L-.5,1.6Z","filled":true,"opacity":1,"size":230,"color":"#0a0a0a"},"encoding":{"x":{"field":"z2","type":"quantitative"},"y":{"field":"r2","type":"quantitative"},"angle":{"field":"a","type":"quantitative","scale":{"domain":[0,360],"range":[0,360]},"legend":null}}},
{"data":{"name":"ref2"},"mark":{"type":"rule","color":"#222","strokeWidth":1.4},"encoding":{"x":{"field":"z","type":"quantitative"},"x2":{"field":"z2"},"y":{"field":"r","type":"quantitative"},"y2":{"field":"r2"}}},
{"data":{"name":"ref2"},"mark":{"type":"point","shape":"M0,0L.5,1.6L0,1.3L-.5,1.6Z","filled":true,"opacity":1,"size":120,"color":"#111"},"encoding":{"x":{"field":"z2","type":"quantitative"},"y":{"field":"r2","type":"quantitative"}}},
{"data":{"name":"text2"},"mark":{"type":"text","angle":270,"align":"left","baseline":"middle","font":"Liberation Mono","fontSize":23,"color":"#2a2a2a"},"encoding":{"x":{"field":"z","type":"quantitative"},"y":{"field":"r","type":"quantitative"},"text":{"field":"l"}}}
]}
]}
